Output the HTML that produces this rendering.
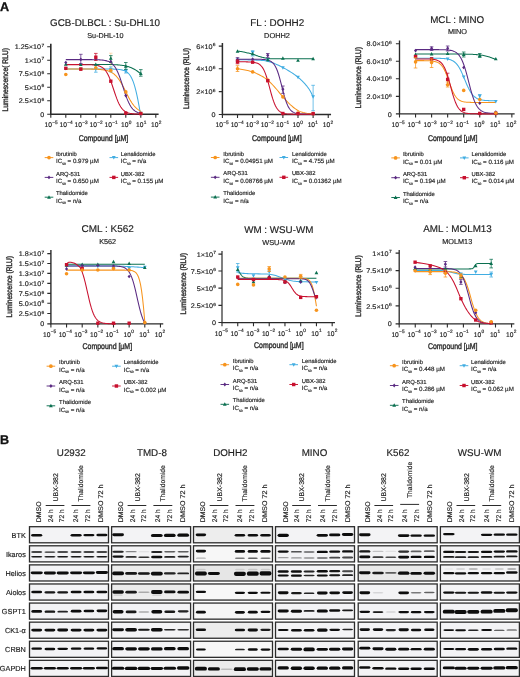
<!DOCTYPE html>
<html><head><meta charset="utf-8"><title>Figure</title>
<style>html,body{margin:0;padding:0;background:#fff;}svg{display:block;opacity:0.999;}text{font-family:"Liberation Sans",sans-serif;text-rendering:geometricPrecision;stroke:#222;stroke-width:0.16px;}</style>
</head><body>
<svg width="520" height="677" viewBox="0 0 520 677">
<defs><filter id="b1" x="-20%" y="-80%" width="140%" height="260%"><feGaussianBlur stdDeviation="0.55"/></filter>
<filter id="b2" x="-20%" y="-80%" width="140%" height="260%"><feGaussianBlur stdDeviation="0.9"/></filter></defs>
<rect width="520" height="677" fill="#fff"/>
<text x="-0.1" y="11.2" font-size="12.6" text-anchor="start" font-weight="bold" fill="#111" style="stroke:#111;stroke-width:0.3px">A</text>
<text x="0" y="443.6" font-size="12.6" text-anchor="start" font-weight="bold" fill="#111" style="stroke:#111;stroke-width:0.3px">B</text>
<g>
<text x="105.1" y="26" font-size="9.8" text-anchor="middle" font-weight="normal" fill="#222222" textLength="110" lengthAdjust="spacingAndGlyphs">GCB-DLBCL : Su-DHL10</text>
<text x="105.4" y="38.2" font-size="7.2" text-anchor="middle" font-weight="normal" fill="#222222" textLength="36.2" lengthAdjust="spacingAndGlyphs">Su-DHL-10</text>
<text transform="translate(8 79.7) rotate(-90)" font-size="8.1" text-anchor="middle" fill="#333" style="stroke:#333;stroke-width:0.42px" textLength="63.4" lengthAdjust="spacingAndGlyphs">Luminescence( RLU)</text>
<path d="M50.8 43.8 V114.2 H158.6" fill="none" stroke="#2b2b2b" stroke-width="1.6"/>
<path d="M47.2 46.8 H50.8 M47.2 60.2 H50.8 M47.2 73.7 H50.8 M47.2 87.2 H50.8 M47.2 100.7 H50.8 M47.2 114.2 H50.8 M50.8 114.2 V117.8 M65.8 114.2 V117.8 M80.8 114.2 V117.8 M95.8 114.2 V117.8 M110.8 114.2 V117.8 M125.8 114.2 V117.8 M140.8 114.2 V117.8 M155.8 114.2 V117.8 " stroke="#2b2b2b" stroke-width="1.1" fill="none"/>
<path d="M65.8 69 L66.8 69 L67.8 69 L68.8 69 L69.8 69 L70.8 69 L71.8 69 L72.8 69 L73.8 69 L74.8 69 L75.8 69 L76.8 69 L77.8 69 L78.8 69 L79.8 69 L80.8 69 L81.8 69 L82.8 69 L83.8 69 L84.8 69 L85.8 69 L86.8 69 L87.8 69 L88.8 69 L89.8 69 L90.8 69 L91.8 69 L92.8 69 L93.8 69 L94.8 69 L95.8 69 L96.8 69 L97.8 69 L98.8 69 L99.8 69 L100.8 69.01 L101.8 69.01 L102.8 69.01 L103.8 69.01 L104.8 69.01 L105.8 69.02 L106.8 69.02 L107.8 69.03 L108.8 69.04 L109.8 69.05 L110.8 69.06 L111.8 69.08 L112.8 69.1 L113.8 69.13 L114.8 69.16 L115.8 69.21 L116.8 69.26 L117.8 69.34 L118.8 69.43 L119.8 69.55 L120.8 69.7 L121.8 69.89 L122.8 70.13 L123.8 70.45 L124.8 70.84 L125.8 71.34 L126.8 71.97 L127.8 72.76 L128.8 73.75 L129.8 74.99 L130.8 76.52 L131.8 78.4 L132.8 80.68 L133.8 83.41 L134.8 86.65 L135.8 90.41 L136.8 94.69 L137.8 99.44 L138.8 104.6 L139.8 110.04 L140.8 115.62" fill="none" stroke="#41ade2" stroke-width="1.05" stroke-linejoin="round"/>
<path d="M65.8 64.4 L66.8 64.4 L67.8 64.4 L68.8 64.4 L69.8 64.4 L70.8 64.4 L71.8 64.4 L72.8 64.4 L73.8 64.4 L74.8 64.4 L75.8 64.4 L76.8 64.4 L77.8 64.4 L78.8 64.4 L79.8 64.4 L80.8 64.4 L81.8 64.4 L82.8 64.4 L83.8 64.4 L84.8 64.4 L85.8 64.4 L86.8 64.4 L87.8 64.41 L88.8 64.41 L89.8 64.41 L90.8 64.41 L91.8 64.41 L92.8 64.41 L93.8 64.41 L94.8 64.41 L95.8 64.42 L96.8 64.42 L97.8 64.42 L98.8 64.43 L99.8 64.43 L100.8 64.44 L101.8 64.44 L102.8 64.45 L103.8 64.46 L104.8 64.47 L105.8 64.48 L106.8 64.49 L107.8 64.51 L108.8 64.53 L109.8 64.55 L110.8 64.57 L111.8 64.6 L112.8 64.63 L113.8 64.67 L114.8 64.71 L115.8 64.76 L116.8 64.82 L117.8 64.89 L118.8 64.97 L119.8 65.06 L120.8 65.17 L121.8 65.29 L122.8 65.43 L123.8 65.59 L124.8 65.77 L125.8 65.98 L126.8 66.22 L127.8 66.49 L128.8 66.8 L129.8 67.14 L130.8 67.53 L131.8 67.96 L132.8 68.44 L133.8 68.96 L134.8 69.52 L135.8 70.14 L136.8 70.79 L137.8 71.49 L138.8 72.22 L139.8 72.98 L140.8 73.75" fill="none" stroke="#0b7050" stroke-width="1.05" stroke-linejoin="round"/>
<path d="M65.8 69 L66.8 69 L67.8 69 L68.8 69 L69.8 69 L70.8 69 L71.8 69 L72.8 69 L73.8 69 L74.8 69.01 L75.8 69.01 L76.8 69.01 L77.8 69.01 L78.8 69.01 L79.8 69.01 L80.8 69.02 L81.8 69.02 L82.8 69.02 L83.8 69.03 L84.8 69.03 L85.8 69.04 L86.8 69.05 L87.8 69.06 L88.8 69.07 L89.8 69.08 L90.8 69.1 L91.8 69.11 L92.8 69.14 L93.8 69.16 L94.8 69.19 L95.8 69.23 L96.8 69.27 L97.8 69.33 L98.8 69.39 L99.8 69.46 L100.8 69.55 L101.8 69.66 L102.8 69.78 L103.8 69.93 L104.8 70.1 L105.8 70.31 L106.8 70.55 L107.8 70.84 L108.8 71.18 L109.8 71.57 L110.8 72.04 L111.8 72.58 L112.8 73.2 L113.8 73.93 L114.8 74.76 L115.8 75.71 L116.8 76.78 L117.8 77.98 L118.8 79.32 L119.8 80.79 L120.8 82.39 L121.8 84.11 L122.8 85.94 L123.8 87.85 L124.8 89.81 L125.8 91.8 L126.8 93.79 L127.8 95.74 L128.8 97.63 L129.8 99.44 L130.8 101.14 L131.8 102.71 L132.8 104.16 L133.8 105.47 L134.8 106.65 L135.8 107.69 L136.8 108.62 L137.8 109.42 L138.8 110.13 L139.8 110.74 L140.8 111.26" fill="none" stroke="#f7941d" stroke-width="1.05" stroke-linejoin="round"/>
<path d="M65.8 59.6 L66.8 59.6 L67.8 59.6 L68.8 59.6 L69.8 59.6 L70.8 59.6 L71.8 59.6 L72.8 59.6 L73.8 59.6 L74.8 59.6 L75.8 59.6 L76.8 59.6 L77.8 59.6 L78.8 59.6 L79.8 59.6 L80.8 59.6 L81.8 59.6 L82.8 59.61 L83.8 59.61 L84.8 59.61 L85.8 59.61 L86.8 59.61 L87.8 59.62 L88.8 59.62 L89.8 59.63 L90.8 59.63 L91.8 59.64 L92.8 59.65 L93.8 59.67 L94.8 59.68 L95.8 59.7 L96.8 59.73 L97.8 59.76 L98.8 59.81 L99.8 59.86 L100.8 59.93 L101.8 60.01 L102.8 60.12 L103.8 60.25 L104.8 60.41 L105.8 60.62 L106.8 60.88 L107.8 61.2 L108.8 61.6 L109.8 62.09 L110.8 62.7 L111.8 63.45 L112.8 64.36 L113.8 65.46 L114.8 66.78 L115.8 68.34 L116.8 70.16 L117.8 72.26 L118.8 74.64 L119.8 77.27 L120.8 80.13 L121.8 83.15 L122.8 86.27 L123.8 89.41 L124.8 92.48 L125.8 95.41 L126.8 98.14 L127.8 100.62 L128.8 102.83 L129.8 104.76 L130.8 106.43 L131.8 107.84 L132.8 109.02 L133.8 110.01 L134.8 110.82 L135.8 111.48 L136.8 112.01 L137.8 112.45 L138.8 112.8 L139.8 113.08 L140.8 113.31" fill="none" stroke="#5a2a82" stroke-width="1.05" stroke-linejoin="round"/>
<path d="M65.8 64.6 L66.8 64.6 L67.8 64.6 L68.8 64.6 L69.8 64.6 L70.8 64.6 L71.8 64.6 L72.8 64.6 L73.8 64.6 L74.8 64.6 L75.8 64.6 L76.8 64.61 L77.8 64.61 L78.8 64.61 L79.8 64.61 L80.8 64.62 L81.8 64.62 L82.8 64.63 L83.8 64.63 L84.8 64.64 L85.8 64.65 L86.8 64.67 L87.8 64.69 L88.8 64.71 L89.8 64.74 L90.8 64.78 L91.8 64.83 L92.8 64.9 L93.8 64.98 L94.8 65.09 L95.8 65.22 L96.8 65.39 L97.8 65.6 L98.8 65.87 L99.8 66.22 L100.8 66.65 L101.8 67.19 L102.8 67.87 L103.8 68.7 L104.8 69.72 L105.8 70.97 L106.8 72.46 L107.8 74.22 L108.8 76.27 L109.8 78.6 L110.8 81.19 L111.8 84.01 L112.8 86.97 L113.8 90.01 L114.8 93.03 L115.8 95.94 L116.8 98.67 L117.8 101.17 L118.8 103.39 L119.8 105.32 L120.8 106.97 L121.8 108.36 L122.8 109.51 L123.8 110.46 L124.8 111.22 L125.8 111.84 L126.8 112.33 L127.8 112.73 L128.8 113.04 L129.8 113.29 L130.8 113.48 L131.8 113.64 L132.8 113.76 L133.8 113.86 L134.8 113.93 L135.8 113.99 L136.8 114.03 L137.8 114.07 L138.8 114.1 L139.8 114.12 L140.8 114.14" fill="none" stroke="#c8102e" stroke-width="1.05" stroke-linejoin="round"/>
<path d="M110.8 53.2 V69 M109 53.2 H112.6" stroke="#f7941d" stroke-opacity="0.4" stroke-width="0.75" fill="none"/>
<path d="M65.8 70.45 L67.65 67.04 L63.95 67.04Z" fill="#41ade2"/>
<path d="M80.8 70.75 L82.65 67.34 L78.95 67.34Z" fill="#41ade2"/>
<path d="M95.8 65.5 V72.2 M94 65.5 H97.6 M94 72.2 H97.6" stroke="#41ade2" stroke-width="0.75" fill="none"/>
<path d="M95.8 70.95 L97.65 67.54 L93.95 67.54Z" fill="#41ade2"/>
<path d="M110.8 66.9 V71.9 M109 66.9 H112.6 M109 71.9 H112.6" stroke="#41ade2" stroke-width="0.75" fill="none"/>
<path d="M110.8 71.35 L112.65 67.94 L108.95 67.94Z" fill="#41ade2"/>
<path d="M125.8 69.4 V73 M124 69.4 H127.6 M124 73 H127.6" stroke="#41ade2" stroke-width="0.75" fill="none"/>
<path d="M125.8 73.15 L127.65 69.74 L123.95 69.74Z" fill="#41ade2"/>
<path d="M140.8 115.25 L142.65 111.84 L138.95 111.84Z" fill="#41ade2"/>
<circle cx="65.8" cy="74.5" r="1.8" fill="#f7941d"/>
<circle cx="80.8" cy="69" r="1.8" fill="#f7941d"/>
<circle cx="95.8" cy="67.8" r="1.8" fill="#f7941d"/>
<circle cx="110.8" cy="70.4" r="1.8" fill="#f7941d"/>
<circle cx="125.8" cy="91.9" r="1.8" fill="#f7941d"/>
<circle cx="140.8" cy="113.2" r="1.8" fill="#f7941d"/>
<path d="M65.8 62.25 L67.65 65.66 L63.95 65.66Z" fill="#0b7050"/>
<path d="M80.8 62.65 L82.65 66.06 L78.95 66.06Z" fill="#0b7050"/>
<path d="M95.8 62.45 L97.65 65.86 L93.95 65.86Z" fill="#0b7050"/>
<path d="M110.8 55.6 V62.5 M109 55.6 H112.6 M109 62.5 H112.6" stroke="#0b7050" stroke-width="0.75" fill="none"/>
<path d="M110.8 56.25 L112.65 59.66 L108.95 59.66Z" fill="#0b7050"/>
<path d="M125.8 62.5 V69.4 M124 62.5 H127.6 M124 69.4 H127.6" stroke="#0b7050" stroke-width="0.75" fill="none"/>
<path d="M125.8 64.25 L127.65 67.66 L123.95 67.66Z" fill="#0b7050"/>
<path d="M140.8 69.6 V76.2 M139 69.6 H142.6 M139 76.2 H142.6" stroke="#0b7050" stroke-width="0.75" fill="none"/>
<path d="M140.8 71.55 L142.65 74.96 L138.95 74.96Z" fill="#0b7050"/>
<path d="M65.8 60.65 L67.37 62.5 L65.8 64.35 L64.23 62.5Z" fill="#5a2a82"/>
<path d="M80.8 54.3 V63.5 M79 54.3 H82.6 M79 63.5 H82.6" stroke="#5a2a82" stroke-width="0.75" fill="none"/>
<path d="M80.8 57.55 L82.37 59.4 L80.8 61.25 L79.23 59.4Z" fill="#5a2a82"/>
<path d="M95.8 57.15 L97.37 59 L95.8 60.85 L94.23 59Z" fill="#5a2a82"/>
<path d="M110.8 59.65 L112.37 61.5 L110.8 63.35 L109.23 61.5Z" fill="#5a2a82"/>
<path d="M125.8 93.75 L127.37 95.6 L125.8 97.45 L124.23 95.6Z" fill="#5a2a82"/>
<path d="M140.8 111.55 L142.37 113.4 L140.8 115.25 L139.23 113.4Z" fill="#5a2a82"/>
<rect x="64.12" y="66.62" width="3.36" height="3.36" fill="#c8102e"/>
<rect x="79.12" y="67.52" width="3.36" height="3.36" fill="#c8102e"/>
<path d="M95.8 53.4 V60.5 M94 53.4 H97.6 M94 60.5 H97.6" stroke="#c8102e" stroke-width="0.75" fill="none"/>
<rect x="94.12" y="55.52" width="3.36" height="3.36" fill="#c8102e"/>
<rect x="109.12" y="79.52" width="3.36" height="3.36" fill="#c8102e"/>
<rect x="124.12" y="111.52" width="3.36" height="3.36" fill="#c8102e"/>
<rect x="139.12" y="111.92" width="3.36" height="3.36" fill="#c8102e"/>
<text x="41.16" y="49.4" font-size="6.7" text-anchor="end" fill="#222222" textLength="26.35" lengthAdjust="spacingAndGlyphs">1.25×10</text>
<text x="41.46" y="46.9" font-size="4.7" text-anchor="start" fill="#222222" textLength="2.74" lengthAdjust="spacingAndGlyphs">7</text>
<text x="41.16" y="62.8" font-size="6.7" text-anchor="end" fill="#222222" textLength="16.3" lengthAdjust="spacingAndGlyphs">1×10</text>
<text x="41.46" y="60.3" font-size="4.7" text-anchor="start" fill="#222222" textLength="2.74" lengthAdjust="spacingAndGlyphs">7</text>
<text x="41.16" y="76.3" font-size="6.7" text-anchor="end" fill="#222222" textLength="22.33" lengthAdjust="spacingAndGlyphs">7.5×10</text>
<text x="41.46" y="73.8" font-size="4.7" text-anchor="start" fill="#222222" textLength="2.74" lengthAdjust="spacingAndGlyphs">6</text>
<text x="41.16" y="89.8" font-size="6.7" text-anchor="end" fill="#222222" textLength="16.3" lengthAdjust="spacingAndGlyphs">5×10</text>
<text x="41.46" y="87.3" font-size="4.7" text-anchor="start" fill="#222222" textLength="2.74" lengthAdjust="spacingAndGlyphs">6</text>
<text x="41.16" y="103.3" font-size="6.7" text-anchor="end" fill="#222222" textLength="22.33" lengthAdjust="spacingAndGlyphs">2.5×10</text>
<text x="41.46" y="100.8" font-size="4.7" text-anchor="start" fill="#222222" textLength="2.74" lengthAdjust="spacingAndGlyphs">6</text>
<text x="44.2" y="116.8" font-size="6.7" text-anchor="end" font-weight="normal" fill="#222222" textLength="4.02" lengthAdjust="spacingAndGlyphs">0</text>
<text x="44.61" y="127.4" font-size="6.9" fill="#222222" textLength="7.4" lengthAdjust="spacingAndGlyphs">10</text>
<text x="52.31" y="124.3" font-size="4.8" fill="#222222" textLength="5.47" lengthAdjust="spacingAndGlyphs">−5</text>
<text x="59.61" y="127.4" font-size="6.9" fill="#222222" textLength="7.4" lengthAdjust="spacingAndGlyphs">10</text>
<text x="67.31" y="124.3" font-size="4.8" fill="#222222" textLength="5.47" lengthAdjust="spacingAndGlyphs">−4</text>
<text x="74.61" y="127.4" font-size="6.9" fill="#222222" textLength="7.4" lengthAdjust="spacingAndGlyphs">10</text>
<text x="82.31" y="124.3" font-size="4.8" fill="#222222" textLength="5.47" lengthAdjust="spacingAndGlyphs">−3</text>
<text x="89.61" y="127.4" font-size="6.9" fill="#222222" textLength="7.4" lengthAdjust="spacingAndGlyphs">10</text>
<text x="97.31" y="124.3" font-size="4.8" fill="#222222" textLength="5.47" lengthAdjust="spacingAndGlyphs">−2</text>
<text x="104.61" y="127.4" font-size="6.9" fill="#222222" textLength="7.4" lengthAdjust="spacingAndGlyphs">10</text>
<text x="112.31" y="124.3" font-size="4.8" fill="#222222" textLength="5.47" lengthAdjust="spacingAndGlyphs">−1</text>
<text x="121.02" y="127.4" font-size="6.9" fill="#222222" textLength="7.4" lengthAdjust="spacingAndGlyphs">10</text>
<text x="128.72" y="124.3" font-size="4.8" fill="#222222" textLength="2.67" lengthAdjust="spacingAndGlyphs">0</text>
<text x="136.02" y="127.4" font-size="6.9" fill="#222222" textLength="7.4" lengthAdjust="spacingAndGlyphs">10</text>
<text x="143.72" y="124.3" font-size="4.8" fill="#222222" textLength="2.67" lengthAdjust="spacingAndGlyphs">1</text>
<text x="151.02" y="127.4" font-size="6.9" fill="#222222" textLength="7.4" lengthAdjust="spacingAndGlyphs">10</text>
<text x="158.72" y="124.3" font-size="4.8" fill="#222222" textLength="2.67" lengthAdjust="spacingAndGlyphs">2</text>
<text x="103.5" y="140.9" font-size="8.3" text-anchor="middle" fill="#333" style="stroke:#333;stroke-width:0.42px" textLength="49.6" lengthAdjust="spacingAndGlyphs">Compound [µM]</text>
<path d="M44.7 157.6 H53.3" stroke="#f7941d" stroke-width="0.95"/>
<circle cx="49" cy="157.6" r="1.84" fill="#f7941d"/>
<text x="56" y="155.7" font-size="5.85" text-anchor="start" font-weight="normal" fill="#222222">Ibrutinib</text>
<text x="56" y="163.3" font-size="6.2" fill="#222222">IC<tspan font-size="3.3" dy="1.5">50</tspan><tspan dy="-1.5"> = 0.979 µM</tspan></text>
<path d="M44.7 177.4 H53.3" stroke="#5a2a82" stroke-width="0.95"/>
<path d="M49 175.51 L50.6 177.4 L49 179.29 L47.4 177.4Z" fill="#5a2a82"/>
<text x="56" y="175.5" font-size="5.85" text-anchor="start" font-weight="normal" fill="#222222">ARQ-531</text>
<text x="56" y="183.1" font-size="6.2" fill="#222222">IC<tspan font-size="3.3" dy="1.5">50</tspan><tspan dy="-1.5"> = 0.650 µM</tspan></text>
<path d="M44.7 197.2 H53.3" stroke="#0b7050" stroke-width="0.95"/>
<path d="M49 195.21 L50.89 198.69 L47.11 198.69Z" fill="#0b7050"/>
<text x="56" y="195.3" font-size="5.85" text-anchor="start" font-weight="normal" fill="#222222">Thalidomide</text>
<text x="56" y="202.9" font-size="6.2" fill="#222222">IC<tspan font-size="3.3" dy="1.5">50</tspan><tspan dy="-1.5"> = n/a</tspan></text>
<path d="M109.5 157.6 H118.1" stroke="#41ade2" stroke-width="0.95"/>
<path d="M113.8 159.59 L115.69 156.11 L111.91 156.11Z" fill="#41ade2"/>
<text x="120.7" y="155.7" font-size="5.85" text-anchor="start" font-weight="normal" fill="#222222">Lenalidomide</text>
<text x="120.7" y="163.3" font-size="6.2" fill="#222222">IC<tspan font-size="3.3" dy="1.5">50</tspan><tspan dy="-1.5"> = n/a</tspan></text>
<path d="M109.5 177.4 H118.1" stroke="#c8102e" stroke-width="0.95"/>
<rect x="112.09" y="175.69" width="3.43" height="3.43" fill="#c8102e"/>
<text x="120.7" y="175.5" font-size="5.85" text-anchor="start" font-weight="normal" fill="#222222">UBX-382</text>
<text x="120.7" y="183.1" font-size="6.2" fill="#222222">IC<tspan font-size="3.3" dy="1.5">50</tspan><tspan dy="-1.5"> = 0.155 µM</tspan></text>
</g>
<g>
<text x="277.2" y="25.6" font-size="9.8" text-anchor="middle" font-weight="normal" fill="#222222" textLength="54" lengthAdjust="spacingAndGlyphs">FL : DOHH2</text>
<text x="277" y="37.6" font-size="7.2" text-anchor="middle" font-weight="normal" fill="#222222" textLength="25.9" lengthAdjust="spacingAndGlyphs">DOHH2</text>
<text transform="translate(189.4 78.5) rotate(-90)" font-size="8.1" text-anchor="middle" fill="#333" style="stroke:#333;stroke-width:0.42px" textLength="61" lengthAdjust="spacingAndGlyphs">Luminescence (RLU)</text>
<path d="M222.4 42.9 V114.45 H331.04" fill="none" stroke="#2b2b2b" stroke-width="1.5"/>
<path d="M218.8 46.1 H222.4 M218.8 68.8 H222.4 M218.8 91.6 H222.4 M218.8 114.45 H222.4 M222.4 114.45 V118.05 M237.52 114.45 V118.05 M252.64 114.45 V118.05 M267.76 114.45 V118.05 M282.88 114.45 V118.05 M298 114.45 V118.05 M313.12 114.45 V118.05 M328.24 114.45 V118.05 " stroke="#2b2b2b" stroke-width="1.1" fill="none"/>
<path d="M237.52 59.8 L238.25 59.81 L239.16 59.81 L240.24 59.81 L241.44 59.81 L242.75 59.81 L244.13 59.82 L245.57 59.83 L247.04 59.84 L248.51 59.87 L249.94 59.9 L251.33 59.94 L252.64 60 L253.9 60.05 L255.16 60.1 L256.42 60.13 L257.68 60.17 L258.94 60.22 L260.2 60.27 L261.46 60.36 L262.72 60.46 L263.98 60.6 L265.24 60.79 L266.5 61.02 L267.76 61.3 L269.02 61.63 L270.28 62.01 L271.54 62.42 L272.8 62.87 L274.06 63.36 L275.32 63.88 L276.58 64.42 L277.84 64.99 L279.1 65.59 L280.36 66.21 L281.62 66.85 L282.88 67.5 L284.16 68.18 L285.46 68.91 L286.78 69.66 L288.11 70.45 L289.44 71.26 L290.76 72.09 L292.06 72.93 L293.34 73.79 L294.58 74.64 L295.78 75.5 L296.92 76.36 L298 77.2 L299.03 78.05 L300.02 78.91 L300.97 79.78 L301.89 80.66 L302.78 81.54 L303.62 82.43 L304.44 83.32 L305.22 84.2 L305.96 85.07 L306.68 85.93 L307.35 86.77 L308 87.6 L308.61 88.44 L309.19 89.31 L309.74 90.2 L310.26 91.1 L310.74 91.98 L311.19 92.85 L311.6 93.68 L311.97 94.46 L312.31 95.17 L312.62 95.81 L312.89 96.36 L313.12 96.8" fill="none" stroke="#41ade2" stroke-width="1.05" stroke-linejoin="round"/>
<path d="M237.52 51.2 L237.75 51.22 L238 51.24 L238.3 51.27 L238.63 51.29 L238.99 51.32 L239.39 51.35 L239.82 51.39 L240.29 51.44 L240.79 51.51 L241.33 51.59 L241.91 51.69 L242.52 51.8 L243.19 51.94 L243.95 52.1 L244.76 52.27 L245.63 52.47 L246.53 52.67 L247.45 52.89 L248.39 53.11 L249.31 53.33 L250.21 53.56 L251.07 53.78 L251.89 53.99 L252.64 54.2 L253.33 54.4 L253.97 54.61 L254.58 54.81 L255.16 55.02 L255.72 55.23 L256.26 55.44 L256.8 55.64 L257.34 55.84 L257.88 56.04 L258.44 56.23 L259.03 56.42 L259.64 56.6 L260.28 56.78 L260.93 56.95 L261.59 57.12 L262.27 57.3 L262.95 57.46 L263.64 57.62 L264.33 57.78 L265.02 57.93 L265.71 58.06 L266.4 58.19 L267.08 58.3 L267.76 58.4 L268.43 58.48 L269.11 58.55 L269.79 58.61 L270.47 58.65 L271.15 58.69 L271.82 58.71 L272.5 58.73 L273.16 58.75 L273.82 58.76 L274.48 58.77 L275.12 58.79 L275.76 58.8 L276.36 58.81 L276.9 58.82 L277.41 58.83 L277.9 58.83 L278.38 58.83 L278.87 58.82 L279.39 58.82 L279.95 58.81 L280.56 58.81 L281.24 58.8 L282.01 58.8 L282.88 58.8 L283.86 58.8 L284.94 58.8 L286.1 58.8 L287.33 58.8 L288.61 58.8 L289.94 58.8 L291.29 58.8 L292.66 58.8 L294.03 58.8 L295.39 58.8 L296.71 58.8 L298 58.8 L299.31 58.8 L300.69 58.8 L302.13 58.8 L303.6 58.8 L305.07 58.8 L306.5 58.8 L307.89 58.8 L309.2 58.8 L310.4 58.8 L311.48 58.8 L312.39 58.8 L313.12 58.8" fill="none" stroke="#0b7050" stroke-width="1.05" stroke-linejoin="round"/>
<path d="M237.4 68.7 L238.23 68.83 L239.37 69.01 L240.73 69.23 L242.19 69.47 L243.65 69.73 L245 70 L246.27 70.27 L247.54 70.54 L248.81 70.83 L250.08 71.14 L251.34 71.5 L252.6 71.9 L253.84 72.35 L255.07 72.84 L256.3 73.37 L257.53 73.94 L258.76 74.55 L260 75.2 L261.25 75.88 L262.51 76.58 L263.78 77.32 L265.05 78.12 L266.33 79.01 L267.6 80 L268.88 81.11 L270.16 82.33 L271.45 83.63 L272.74 84.99 L274.02 86.39 L275.3 87.8 L276.57 89.26 L277.84 90.78 L279.11 92.34 L280.37 93.91 L281.63 95.44 L282.9 96.9 L284.17 98.31 L285.44 99.7 L286.71 101.06 L287.97 102.37 L289.24 103.62 L290.5 104.8 L291.76 105.91 L293.01 106.98 L294.26 107.99 L295.5 108.92 L296.75 109.76 L298 110.5 L299.25 111.12 L300.5 111.63 L301.74 112.05 L302.99 112.4 L304.24 112.71 L305.5 113 L306.85 113.25 L308.31 113.45 L309.77 113.61 L311.13 113.73 L312.27 113.82 L313.1 113.9" fill="none" stroke="#f7941d" stroke-width="1.05" stroke-linejoin="round"/>
<path d="M237.52 59.2 L238.52 59.2 L239.52 59.2 L240.52 59.2 L241.52 59.2 L242.52 59.2 L243.52 59.2 L244.52 59.2 L245.52 59.2 L246.52 59.2 L247.52 59.2 L248.52 59.2 L249.52 59.2 L250.52 59.21 L251.52 59.21 L252.52 59.21 L253.52 59.21 L254.52 59.22 L255.52 59.23 L256.52 59.24 L257.52 59.25 L258.52 59.26 L259.52 59.28 L260.52 59.31 L261.52 59.35 L262.52 59.4 L263.52 59.47 L264.52 59.56 L265.52 59.68 L266.52 59.83 L267.52 60.04 L268.52 60.32 L269.52 60.69 L270.52 61.17 L271.52 61.8 L272.52 62.62 L273.52 63.67 L274.52 65.01 L275.52 66.7 L276.52 68.78 L277.52 71.28 L278.52 74.23 L279.52 77.59 L280.52 81.28 L281.52 85.19 L282.52 89.16 L283.52 93.03 L284.52 96.65 L285.52 99.92 L286.52 102.76 L287.52 105.16 L288.52 107.14 L289.52 108.74 L290.52 110.01 L291.52 111 L292.52 111.77 L293.52 112.36 L294.52 112.81 L295.52 113.15 L296.52 113.41 L297.52 113.61 L298.52 113.76 L299.52 113.87 L300.52 113.95 L301.52 114.01 L302.52 114.06 L303.52 114.09 L304.52 114.12 L305.52 114.14 L306.52 114.16 L307.52 114.17 L308.52 114.18 L309.52 114.18 L310.52 114.19 L311.52 114.19 L312.52 114.19 L313.12 114.19" fill="none" stroke="#5a2a82" stroke-width="1.05" stroke-linejoin="round"/>
<path d="M237.52 61.8 L238.52 61.81 L239.52 61.81 L240.52 61.81 L241.52 61.82 L242.52 61.82 L243.52 61.83 L244.52 61.84 L245.52 61.85 L246.52 61.86 L247.52 61.89 L248.52 61.91 L249.52 61.95 L250.52 62 L251.52 62.07 L252.52 62.16 L253.52 62.28 L254.52 62.44 L255.52 62.65 L256.52 62.93 L257.52 63.3 L258.52 63.78 L259.52 64.42 L260.52 65.24 L261.52 66.29 L262.52 67.63 L263.52 69.31 L264.52 71.37 L265.52 73.84 L266.52 76.73 L267.52 80 L268.52 83.57 L269.52 87.32 L270.52 91.09 L271.52 94.74 L272.52 98.13 L273.52 101.17 L274.52 103.79 L275.52 106 L276.52 107.81 L277.52 109.26 L278.52 110.41 L279.52 111.31 L280.52 112.01 L281.52 112.54 L282.52 112.95 L283.52 113.26 L284.52 113.49 L285.52 113.67 L286.52 113.8 L287.52 113.9 L288.52 113.97 L289.52 114.03 L290.52 114.07 L291.52 114.11 L292.52 114.13 L293.52 114.15 L294.52 114.16 L295.52 114.17 L296.52 114.18 L297.52 114.18 L298.52 114.19 L299.52 114.19 L300.52 114.19 L301.52 114.19 L302.52 114.2 L303.52 114.2 L304.52 114.2 L305.52 114.2 L306.52 114.2 L307.52 114.2 L308.52 114.2 L309.52 114.2 L310.52 114.2 L311.52 114.2 L312.52 114.2 L313.12 114.2" fill="none" stroke="#c8102e" stroke-width="1.05" stroke-linejoin="round"/>
<path d="M237.52 61.85 L239.37 58.44 L235.67 58.44Z" fill="#41ade2"/>
<path d="M252.64 50.7 V56 M250.84 50.7 H254.44 M250.84 56 H254.44" stroke="#41ade2" stroke-width="0.75" fill="none"/>
<path d="M252.64 54.45 L254.49 51.04 L250.79 51.04Z" fill="#41ade2"/>
<path d="M267.76 62.15 L269.61 58.74 L265.91 58.74Z" fill="#41ade2"/>
<path d="M282.88 69.75 L284.73 66.34 L281.03 66.34Z" fill="#41ade2"/>
<path d="M298 79.15 L299.85 75.74 L296.15 75.74Z" fill="#41ade2"/>
<path d="M313.12 85.3 V110.7 M311.32 85.3 H314.92 M311.32 110.7 H314.92" stroke="#41ade2" stroke-width="0.75" fill="none"/>
<path d="M313.12 98.75 L314.97 95.34 L311.27 95.34Z" fill="#41ade2"/>
<path d="M237.52 65.7 V71.5 M235.72 65.7 H239.32 M235.72 71.5 H239.32" stroke="#f7941d" stroke-width="0.75" fill="none"/>
<circle cx="237.52" cy="68.7" r="1.8" fill="#f7941d"/>
<circle cx="252.64" cy="71.9" r="1.8" fill="#f7941d"/>
<circle cx="267.76" cy="80" r="1.8" fill="#f7941d"/>
<circle cx="282.88" cy="96.9" r="1.8" fill="#f7941d"/>
<circle cx="298" cy="113" r="1.8" fill="#f7941d"/>
<circle cx="313.12" cy="113.6" r="1.8" fill="#f7941d"/>
<path d="M237.52 49.25 L239.37 52.66 L235.67 52.66Z" fill="#0b7050"/>
<path d="M252.64 51.75 L254.49 55.16 L250.79 55.16Z" fill="#0b7050"/>
<path d="M267.76 57.95 L269.61 61.36 L265.91 61.36Z" fill="#0b7050"/>
<path d="M282.88 56.35 L284.73 59.76 L281.03 59.76Z" fill="#0b7050"/>
<path d="M298 58.45 L299.85 61.86 L296.15 61.86Z" fill="#0b7050"/>
<path d="M313.12 56.85 L314.97 60.26 L311.27 60.26Z" fill="#0b7050"/>
<path d="M237.52 57.6 V61 M235.72 57.6 H239.32 M235.72 61 H239.32" stroke="#5a2a82" stroke-width="0.75" fill="none"/>
<path d="M237.52 57.55 L239.09 59.4 L237.52 61.25 L235.95 59.4Z" fill="#5a2a82"/>
<path d="M252.64 57.35 L254.21 59.2 L252.64 61.05 L251.07 59.2Z" fill="#5a2a82"/>
<path d="M267.76 53.5 V57.6 M265.96 53.5 H269.56 M265.96 57.6 H269.56" stroke="#5a2a82" stroke-width="0.75" fill="none"/>
<path d="M267.76 53.45 L269.33 55.3 L267.76 57.15 L266.19 55.3Z" fill="#5a2a82"/>
<path d="M282.88 86 V93.4 M281.08 86 H284.68 M281.08 93.4 H284.68" stroke="#5a2a82" stroke-width="0.75" fill="none"/>
<path d="M282.88 87.35 L284.45 89.2 L282.88 91.05 L281.31 89.2Z" fill="#5a2a82"/>
<path d="M298 111.75 L299.57 113.6 L298 115.45 L296.43 113.6Z" fill="#5a2a82"/>
<path d="M313.12 111.75 L314.69 113.6 L313.12 115.45 L311.55 113.6Z" fill="#5a2a82"/>
<path d="M237.52 59.8 V63.8 M235.72 59.8 H239.32 M235.72 63.8 H239.32" stroke="#c8102e" stroke-width="0.75" fill="none"/>
<rect x="235.84" y="60.12" width="3.36" height="3.36" fill="#c8102e"/>
<rect x="250.96" y="60.52" width="3.36" height="3.36" fill="#c8102e"/>
<rect x="266.08" y="79.02" width="3.36" height="3.36" fill="#c8102e"/>
<rect x="281.2" y="111.82" width="3.36" height="3.36" fill="#c8102e"/>
<rect x="296.32" y="111.92" width="3.36" height="3.36" fill="#c8102e"/>
<rect x="311.44" y="111.92" width="3.36" height="3.36" fill="#c8102e"/>
<text x="212.46" y="48.7" font-size="6.7" text-anchor="end" fill="#222222" textLength="16.3" lengthAdjust="spacingAndGlyphs">6×10</text>
<text x="212.76" y="46.2" font-size="4.7" text-anchor="start" fill="#222222" textLength="2.74" lengthAdjust="spacingAndGlyphs">6</text>
<text x="212.46" y="71.4" font-size="6.7" text-anchor="end" fill="#222222" textLength="16.3" lengthAdjust="spacingAndGlyphs">4×10</text>
<text x="212.76" y="68.9" font-size="4.7" text-anchor="start" fill="#222222" textLength="2.74" lengthAdjust="spacingAndGlyphs">6</text>
<text x="212.46" y="94.2" font-size="6.7" text-anchor="end" fill="#222222" textLength="16.3" lengthAdjust="spacingAndGlyphs">2×10</text>
<text x="212.76" y="91.7" font-size="4.7" text-anchor="start" fill="#222222" textLength="2.74" lengthAdjust="spacingAndGlyphs">6</text>
<text x="215.5" y="117.05" font-size="6.7" text-anchor="end" font-weight="normal" fill="#222222" textLength="4.02" lengthAdjust="spacingAndGlyphs">0</text>
<text x="215.51" y="127.3" font-size="6.9" fill="#222222" textLength="7.4" lengthAdjust="spacingAndGlyphs">10</text>
<text x="223.21" y="124.2" font-size="4.8" fill="#222222" textLength="5.47" lengthAdjust="spacingAndGlyphs">−5</text>
<text x="230.63" y="127.3" font-size="6.9" fill="#222222" textLength="7.4" lengthAdjust="spacingAndGlyphs">10</text>
<text x="238.33" y="124.2" font-size="4.8" fill="#222222" textLength="5.47" lengthAdjust="spacingAndGlyphs">−4</text>
<text x="245.75" y="127.3" font-size="6.9" fill="#222222" textLength="7.4" lengthAdjust="spacingAndGlyphs">10</text>
<text x="253.45" y="124.2" font-size="4.8" fill="#222222" textLength="5.47" lengthAdjust="spacingAndGlyphs">−3</text>
<text x="260.87" y="127.3" font-size="6.9" fill="#222222" textLength="7.4" lengthAdjust="spacingAndGlyphs">10</text>
<text x="268.57" y="124.2" font-size="4.8" fill="#222222" textLength="5.47" lengthAdjust="spacingAndGlyphs">−2</text>
<text x="275.99" y="127.3" font-size="6.9" fill="#222222" textLength="7.4" lengthAdjust="spacingAndGlyphs">10</text>
<text x="283.69" y="124.2" font-size="4.8" fill="#222222" textLength="5.47" lengthAdjust="spacingAndGlyphs">−1</text>
<text x="292.52" y="127.3" font-size="6.9" fill="#222222" textLength="7.4" lengthAdjust="spacingAndGlyphs">10</text>
<text x="300.22" y="124.2" font-size="4.8" fill="#222222" textLength="2.67" lengthAdjust="spacingAndGlyphs">0</text>
<text x="307.64" y="127.3" font-size="6.9" fill="#222222" textLength="7.4" lengthAdjust="spacingAndGlyphs">10</text>
<text x="315.34" y="124.2" font-size="4.8" fill="#222222" textLength="2.67" lengthAdjust="spacingAndGlyphs">1</text>
<text x="322.76" y="127.3" font-size="6.9" fill="#222222" textLength="7.4" lengthAdjust="spacingAndGlyphs">10</text>
<text x="330.46" y="124.2" font-size="4.8" fill="#222222" textLength="2.67" lengthAdjust="spacingAndGlyphs">2</text>
<text x="276.8" y="140.8" font-size="8.3" text-anchor="middle" fill="#333" style="stroke:#333;stroke-width:0.42px" textLength="49.6" lengthAdjust="spacingAndGlyphs">Compound [µM]</text>
<path d="M210.9 157.5 H219.5" stroke="#f7941d" stroke-width="0.95"/>
<circle cx="215.2" cy="157.5" r="1.84" fill="#f7941d"/>
<text x="223.3" y="155.6" font-size="5.85" text-anchor="start" font-weight="normal" fill="#222222">Ibrutinib</text>
<text x="223.3" y="163.2" font-size="6.2" fill="#222222">IC<tspan font-size="3.3" dy="1.5">50</tspan><tspan dy="-1.5"> = 0.04951 µM</tspan></text>
<path d="M210.9 177.3 H219.5" stroke="#5a2a82" stroke-width="0.95"/>
<path d="M215.2 175.41 L216.8 177.3 L215.2 179.19 L213.6 177.3Z" fill="#5a2a82"/>
<text x="223.3" y="175.4" font-size="5.85" text-anchor="start" font-weight="normal" fill="#222222">ARQ-531</text>
<text x="223.3" y="183" font-size="6.2" fill="#222222">IC<tspan font-size="3.3" dy="1.5">50</tspan><tspan dy="-1.5"> = 0.08766 µM</tspan></text>
<path d="M210.9 197.1 H219.5" stroke="#0b7050" stroke-width="0.95"/>
<path d="M215.2 195.11 L217.09 198.59 L213.31 198.59Z" fill="#0b7050"/>
<text x="223.3" y="195.2" font-size="5.85" text-anchor="start" font-weight="normal" fill="#222222">Thalidomide</text>
<text x="223.3" y="202.8" font-size="6.2" fill="#222222">IC<tspan font-size="3.3" dy="1.5">50</tspan><tspan dy="-1.5"> = n/a</tspan></text>
<path d="M279.5 157.5 H288.1" stroke="#41ade2" stroke-width="0.95"/>
<path d="M283.8 159.49 L285.69 156.01 L281.91 156.01Z" fill="#41ade2"/>
<text x="291.9" y="155.6" font-size="5.85" text-anchor="start" font-weight="normal" fill="#222222">Lenalidomide</text>
<text x="291.9" y="163.2" font-size="6.2" fill="#222222">IC<tspan font-size="3.3" dy="1.5">50</tspan><tspan dy="-1.5"> = 4.755 µM</tspan></text>
<path d="M279.5 177.3 H288.1" stroke="#c8102e" stroke-width="0.95"/>
<rect x="282.09" y="175.59" width="3.43" height="3.43" fill="#c8102e"/>
<text x="291.9" y="175.4" font-size="5.85" text-anchor="start" font-weight="normal" fill="#222222">UBX-382</text>
<text x="291.9" y="183" font-size="6.2" fill="#222222">IC<tspan font-size="3.3" dy="1.5">50</tspan><tspan dy="-1.5"> = 0.01362 µM</tspan></text>
</g>
<g>
<text x="457.2" y="22.8" font-size="9.8" text-anchor="middle" font-weight="normal" fill="#222222" textLength="54" lengthAdjust="spacingAndGlyphs">MCL : MINO</text>
<text x="457.5" y="34.4" font-size="7.2" text-anchor="middle" font-weight="normal" fill="#222222" textLength="19.1" lengthAdjust="spacingAndGlyphs">MINO</text>
<text transform="translate(360.6 77.6) rotate(-90)" font-size="8.1" text-anchor="middle" fill="#333" style="stroke:#333;stroke-width:0.42px" textLength="61.2" lengthAdjust="spacingAndGlyphs">Luminescence (RLU)</text>
<path d="M399.5 40.4 V113.9 H514.65" fill="none" stroke="#2b2b2b" stroke-width="1.35"/>
<path d="M395.9 43.8 H399.5 M395.9 61.2 H399.5 M395.9 78.8 H399.5 M395.9 96.4 H399.5 M395.9 113.9 H399.5 M399.5 113.9 V117.5 M415.55 113.9 V117.5 M431.6 113.9 V117.5 M447.65 113.9 V117.5 M463.7 113.9 V117.5 M479.75 113.9 V117.5 M495.8 113.9 V117.5 M511.85 113.9 V117.5 " stroke="#2b2b2b" stroke-width="1.1" fill="none"/>
<path d="M415.55 54 L416.55 54 L417.55 54 L418.55 54 L419.55 54 L420.55 54 L421.55 54 L422.55 54 L423.55 54 L424.55 54 L425.55 54 L426.55 54 L427.55 54 L428.55 54 L429.55 54 L430.55 54 L431.55 54 L432.55 54 L433.55 54 L434.55 54 L435.55 54 L436.55 54 L437.55 54 L438.55 54 L439.55 54 L440.55 54 L441.55 54 L442.55 54 L443.55 54.01 L444.55 54.01 L445.55 54.01 L446.55 54.01 L447.55 54.01 L448.55 54.01 L449.55 54.01 L450.55 54.02 L451.55 54.02 L452.55 54.02 L453.55 54.02 L454.55 54.03 L455.55 54.03 L456.55 54.04 L457.55 54.04 L458.55 54.05 L459.55 54.06 L460.55 54.06 L461.55 54.07 L462.55 54.09 L463.55 54.1 L464.55 54.11 L465.55 54.13 L466.55 54.15 L467.55 54.17 L468.55 54.2 L469.55 54.23 L470.55 54.26 L471.55 54.3 L472.55 54.35 L473.55 54.4 L474.55 54.46 L475.55 54.53 L476.55 54.61 L477.55 54.69 L478.55 54.79 L479.55 54.91 L480.55 55.04 L481.55 55.18 L482.55 55.34 L483.55 55.52 L484.55 55.72 L485.55 55.95 L486.55 56.19 L487.55 56.46 L488.55 56.75 L489.55 57.07 L490.55 57.41 L491.55 57.77 L492.55 58.15 L493.55 58.54 L494.55 58.96 L495.55 59.38 L495.8 59.48" fill="none" stroke="#0b7050" stroke-width="1.05" stroke-linejoin="round"/>
<path d="M415.55 58.2 L416.55 58.2 L417.55 58.2 L418.55 58.2 L419.55 58.2 L420.55 58.2 L421.55 58.2 L422.55 58.2 L423.55 58.2 L424.55 58.2 L425.55 58.21 L426.55 58.21 L427.55 58.21 L428.55 58.21 L429.55 58.21 L430.55 58.22 L431.55 58.22 L432.55 58.23 L433.55 58.23 L434.55 58.24 L435.55 58.25 L436.55 58.27 L437.55 58.28 L438.55 58.31 L439.55 58.33 L440.55 58.37 L441.55 58.41 L442.55 58.46 L443.55 58.53 L444.55 58.61 L445.55 58.72 L446.55 58.85 L447.55 59.02 L448.55 59.22 L449.55 59.48 L450.55 59.79 L451.55 60.19 L452.55 60.67 L453.55 61.26 L454.55 61.98 L455.55 62.85 L456.55 63.89 L457.55 65.11 L458.55 66.55 L459.55 68.2 L460.55 70.06 L461.55 72.12 L462.55 74.35 L463.55 76.7 L464.55 79.13 L465.55 81.57 L466.55 83.96 L467.55 86.23 L468.55 88.34 L469.55 90.27 L470.55 91.98 L471.55 93.48 L472.55 94.77 L473.55 95.86 L474.55 96.78 L475.55 97.54 L476.55 98.17 L477.55 98.68 L478.55 99.1 L479.55 99.44 L480.55 99.71 L481.55 99.93 L482.55 100.1 L483.55 100.24 L484.55 100.36 L485.55 100.45 L486.55 100.52 L487.55 100.58 L488.55 100.62 L489.55 100.66 L490.55 100.69 L491.55 100.71 L492.55 100.73 L493.55 100.74 L494.55 100.75 L495.55 100.76 L495.8 100.77" fill="none" stroke="#41ade2" stroke-width="1.05" stroke-linejoin="round"/>
<path d="M415.55 60.6 L416.55 60.61 L417.55 60.61 L418.55 60.61 L419.55 60.61 L420.55 60.62 L421.55 60.62 L422.55 60.63 L423.55 60.64 L424.55 60.65 L425.55 60.67 L426.55 60.69 L427.55 60.72 L428.55 60.76 L429.55 60.81 L430.55 60.87 L431.55 60.96 L432.55 61.07 L433.55 61.21 L434.55 61.4 L435.55 61.64 L436.55 61.96 L437.55 62.37 L438.55 62.89 L439.55 63.56 L440.55 64.41 L441.55 65.46 L442.55 66.76 L443.55 68.33 L444.55 70.2 L445.55 72.37 L446.55 74.8 L447.55 77.46 L448.55 80.27 L449.55 83.12 L450.55 85.91 L451.55 88.55 L452.55 90.96 L453.55 93.1 L454.55 94.94 L455.55 96.48 L456.55 97.75 L457.55 98.79 L458.55 99.61 L459.55 100.26 L460.55 100.78 L461.55 101.17 L462.55 101.48 L463.55 101.72 L464.55 101.9 L465.55 102.04 L466.55 102.15 L467.55 102.23 L468.55 102.3 L469.55 102.35 L470.55 102.38 L471.55 102.41 L472.55 102.43 L473.55 102.45 L474.55 102.46 L475.55 102.47 L476.55 102.48 L477.55 102.48 L478.55 102.49 L479.55 102.49 L480.55 102.49 L481.55 102.49 L482.55 102.5 L483.55 102.5 L484.55 102.5 L485.55 102.5 L486.55 102.5 L487.55 102.5 L488.55 102.5 L489.55 102.5 L490.55 102.5 L491.55 102.5 L492.55 102.5 L493.55 102.5 L494.55 102.5 L495.55 102.5 L495.8 102.5" fill="none" stroke="#f7941d" stroke-width="1.05" stroke-linejoin="round"/>
<path d="M415.55 49.6 L416.55 49.6 L417.55 49.6 L418.55 49.6 L419.55 49.6 L420.55 49.6 L421.55 49.6 L422.55 49.6 L423.55 49.6 L424.55 49.6 L425.55 49.6 L426.55 49.6 L427.55 49.6 L428.55 49.6 L429.55 49.6 L430.55 49.61 L431.55 49.61 L432.55 49.61 L433.55 49.61 L434.55 49.62 L435.55 49.62 L436.55 49.63 L437.55 49.63 L438.55 49.64 L439.55 49.65 L440.55 49.67 L441.55 49.69 L442.55 49.71 L443.55 49.74 L444.55 49.78 L445.55 49.83 L446.55 49.89 L447.55 49.97 L448.55 50.08 L449.55 50.21 L450.55 50.37 L451.55 50.58 L452.55 50.85 L453.55 51.19 L454.55 51.61 L455.55 52.14 L456.55 52.81 L457.55 53.64 L458.55 54.67 L459.55 55.93 L460.55 57.47 L461.55 59.31 L462.55 61.49 L463.55 64.03 L464.55 66.94 L465.55 70.19 L466.55 73.73 L467.55 77.48 L468.55 81.36 L469.55 85.23 L470.55 89.01 L471.55 92.57 L472.55 95.85 L473.55 98.79 L474.55 101.37 L475.55 103.59 L476.55 105.46 L477.55 107.03 L478.55 108.31 L479.55 109.36 L480.55 110.21 L481.55 110.9 L482.55 111.44 L483.55 111.88 L484.55 112.22 L485.55 112.49 L486.55 112.71 L487.55 112.88 L488.55 113.01 L489.55 113.12 L490.55 113.2 L491.55 113.26 L492.55 113.31 L493.55 113.35 L494.55 113.39 L495.55 113.41 L495.8 113.42" fill="none" stroke="#5a2a82" stroke-width="1.05" stroke-linejoin="round"/>
<path d="M415.55 58.9 L416.55 58.91 L417.55 58.91 L418.55 58.91 L419.55 58.91 L420.55 58.92 L421.55 58.92 L422.55 58.93 L423.55 58.93 L424.55 58.95 L425.55 58.96 L426.55 58.98 L427.55 59 L428.55 59.03 L429.55 59.08 L430.55 59.13 L431.55 59.2 L432.55 59.3 L433.55 59.42 L434.55 59.58 L435.55 59.79 L436.55 60.07 L437.55 60.43 L438.55 60.89 L439.55 61.48 L440.55 62.24 L441.55 63.2 L442.55 64.41 L443.55 65.92 L444.55 67.77 L445.55 69.99 L446.55 72.6 L447.55 75.58 L448.55 78.91 L449.55 82.49 L450.55 86.21 L451.55 89.94 L452.55 93.54 L453.55 96.9 L454.55 99.92 L455.55 102.57 L456.55 104.83 L457.55 106.71 L458.55 108.25 L459.55 109.49 L460.55 110.48 L461.55 111.25 L462.55 111.86 L463.55 112.33 L464.55 112.7 L465.55 112.98 L466.55 113.2 L467.55 113.36 L468.55 113.49 L469.55 113.59 L470.55 113.66 L471.55 113.72 L472.55 113.76 L473.55 113.79 L474.55 113.82 L475.55 113.84 L476.55 113.85 L477.55 113.86 L478.55 113.87 L479.55 113.88 L480.55 113.88 L481.55 113.89 L482.55 113.89 L483.55 113.89 L484.55 113.89 L485.55 113.9 L486.55 113.9 L487.55 113.9 L488.55 113.9 L489.55 113.9 L490.55 113.9 L491.55 113.9 L492.55 113.9 L493.55 113.9 L494.55 113.9 L495.55 113.9 L495.8 113.9" fill="none" stroke="#c8102e" stroke-width="1.05" stroke-linejoin="round"/>
<path d="M415.55 52.55 L417.4 55.96 L413.7 55.96Z" fill="#0b7050"/>
<path d="M431.6 52.05 L433.45 55.46 L429.75 55.46Z" fill="#0b7050"/>
<path d="M447.65 51.55 L449.5 54.96 L445.8 54.96Z" fill="#0b7050"/>
<path d="M463.7 52 V57 M461.9 52 H465.5 M461.9 57 H465.5" stroke="#0b7050" stroke-width="0.75" fill="none"/>
<path d="M463.7 52.55 L465.55 55.96 L461.85 55.96Z" fill="#0b7050"/>
<path d="M479.75 53.5 V57.5 M477.95 53.5 H481.55 M477.95 57.5 H481.55" stroke="#0b7050" stroke-width="0.75" fill="none"/>
<path d="M479.75 53.55 L481.6 56.96 L477.9 56.96Z" fill="#0b7050"/>
<path d="M495.8 56.95 L497.65 60.36 L493.95 60.36Z" fill="#0b7050"/>
<path d="M415.55 59.95 L417.4 56.54 L413.7 56.54Z" fill="#41ade2"/>
<path d="M431.6 60.35 L433.45 56.94 L429.75 56.94Z" fill="#41ade2"/>
<path d="M447.65 60.95 L449.5 57.54 L445.8 57.54Z" fill="#41ade2"/>
<path d="M463.7 78.85 L465.55 75.44 L461.85 75.44Z" fill="#41ade2"/>
<path d="M479.75 94.5 V99.5 M477.95 94.5 H481.55 M477.95 99.5 H481.55" stroke="#41ade2" stroke-width="0.75" fill="none"/>
<path d="M479.75 98.25 L481.6 94.84 L477.9 94.84Z" fill="#41ade2"/>
<path d="M495.8 103.45 L497.65 100.04 L493.95 100.04Z" fill="#41ade2"/>
<path d="M415.55 48.75 L417.12 50.6 L415.55 52.45 L413.98 50.6Z" fill="#5a2a82"/>
<path d="M431.6 46.8 V50.5 M429.8 46.8 H433.4 M429.8 50.5 H433.4" stroke="#5a2a82" stroke-width="0.75" fill="none"/>
<path d="M431.6 46.45 L433.17 48.3 L431.6 50.15 L430.03 48.3Z" fill="#5a2a82"/>
<path d="M447.65 46 V51 M445.85 46 H449.45 M445.85 51 H449.45" stroke="#5a2a82" stroke-width="0.75" fill="none"/>
<path d="M447.65 46.45 L449.22 48.3 L447.65 50.15 L446.08 48.3Z" fill="#5a2a82"/>
<path d="M463.7 65.65 L465.27 67.5 L463.7 69.35 L462.13 67.5Z" fill="#5a2a82"/>
<path d="M479.75 101.35 L481.32 103.2 L479.75 105.05 L478.18 103.2Z" fill="#5a2a82"/>
<path d="M495.8 110.15 L497.37 112 L495.8 113.85 L494.23 112Z" fill="#5a2a82"/>
<rect x="413.87" y="54.82" width="3.36" height="3.36" fill="#c8102e"/>
<rect x="429.92" y="57.22" width="3.36" height="3.36" fill="#c8102e"/>
<path d="M447.65 73.2 V84.8 M445.85 73.2 H449.45 M445.85 84.8 H449.45" stroke="#c8102e" stroke-width="0.75" fill="none"/>
<rect x="445.97" y="77.72" width="3.36" height="3.36" fill="#c8102e"/>
<rect x="462.02" y="107.72" width="3.36" height="3.36" fill="#c8102e"/>
<rect x="478.07" y="111.72" width="3.36" height="3.36" fill="#c8102e"/>
<rect x="494.12" y="111.72" width="3.36" height="3.36" fill="#c8102e"/>
<path d="M415.55 57.7 V68 M413.75 57.7 H417.35 M413.75 68 H417.35" stroke="#f7941d" stroke-width="0.75" fill="none"/>
<circle cx="415.55" cy="61.9" r="1.8" fill="#f7941d"/>
<path d="M431.6 58.9 V67.5 M429.8 58.9 H433.4 M429.8 67.5 H433.4" stroke="#f7941d" stroke-width="0.75" fill="none"/>
<circle cx="431.6" cy="62.6" r="1.8" fill="#f7941d"/>
<path d="M447.65 82 V87 M445.85 82 H449.45 M445.85 87 H449.45" stroke="#f7941d" stroke-width="0.75" fill="none"/>
<circle cx="447.65" cy="84.8" r="1.8" fill="#f7941d"/>
<circle cx="463.7" cy="90.4" r="1.8" fill="#f7941d"/>
<circle cx="479.75" cy="99.5" r="1.8" fill="#f7941d"/>
<circle cx="495.8" cy="113" r="1.8" fill="#f7941d"/>
<text x="388.76" y="46.4" font-size="6.7" text-anchor="end" fill="#222222" textLength="22.33" lengthAdjust="spacingAndGlyphs">8.0×10</text>
<text x="389.06" y="43.9" font-size="4.7" text-anchor="start" fill="#222222" textLength="2.74" lengthAdjust="spacingAndGlyphs">6</text>
<text x="388.76" y="63.8" font-size="6.7" text-anchor="end" fill="#222222" textLength="22.33" lengthAdjust="spacingAndGlyphs">6.0×10</text>
<text x="389.06" y="61.3" font-size="4.7" text-anchor="start" fill="#222222" textLength="2.74" lengthAdjust="spacingAndGlyphs">6</text>
<text x="388.76" y="81.4" font-size="6.7" text-anchor="end" fill="#222222" textLength="22.33" lengthAdjust="spacingAndGlyphs">4.0×10</text>
<text x="389.06" y="78.9" font-size="4.7" text-anchor="start" fill="#222222" textLength="2.74" lengthAdjust="spacingAndGlyphs">6</text>
<text x="388.76" y="99" font-size="6.7" text-anchor="end" fill="#222222" textLength="22.33" lengthAdjust="spacingAndGlyphs">2.0×10</text>
<text x="389.06" y="96.5" font-size="4.7" text-anchor="start" fill="#222222" textLength="2.74" lengthAdjust="spacingAndGlyphs">6</text>
<text x="391.8" y="116.5" font-size="6.7" text-anchor="end" font-weight="normal" fill="#222222" textLength="4.02" lengthAdjust="spacingAndGlyphs">0</text>
<text x="391.51" y="127.1" font-size="6.9" fill="#222222" textLength="7.4" lengthAdjust="spacingAndGlyphs">10</text>
<text x="399.21" y="124" font-size="4.8" fill="#222222" textLength="5.47" lengthAdjust="spacingAndGlyphs">−5</text>
<text x="407.56" y="127.1" font-size="6.9" fill="#222222" textLength="7.4" lengthAdjust="spacingAndGlyphs">10</text>
<text x="415.26" y="124" font-size="4.8" fill="#222222" textLength="5.47" lengthAdjust="spacingAndGlyphs">−4</text>
<text x="423.61" y="127.1" font-size="6.9" fill="#222222" textLength="7.4" lengthAdjust="spacingAndGlyphs">10</text>
<text x="431.31" y="124" font-size="4.8" fill="#222222" textLength="5.47" lengthAdjust="spacingAndGlyphs">−3</text>
<text x="439.66" y="127.1" font-size="6.9" fill="#222222" textLength="7.4" lengthAdjust="spacingAndGlyphs">10</text>
<text x="447.36" y="124" font-size="4.8" fill="#222222" textLength="5.47" lengthAdjust="spacingAndGlyphs">−2</text>
<text x="455.71" y="127.1" font-size="6.9" fill="#222222" textLength="7.4" lengthAdjust="spacingAndGlyphs">10</text>
<text x="463.41" y="124" font-size="4.8" fill="#222222" textLength="5.47" lengthAdjust="spacingAndGlyphs">−1</text>
<text x="473.97" y="127.1" font-size="6.9" fill="#222222" textLength="7.4" lengthAdjust="spacingAndGlyphs">10</text>
<text x="481.67" y="124" font-size="4.8" fill="#222222" textLength="2.67" lengthAdjust="spacingAndGlyphs">0</text>
<text x="490.02" y="127.1" font-size="6.9" fill="#222222" textLength="7.4" lengthAdjust="spacingAndGlyphs">10</text>
<text x="497.72" y="124" font-size="4.8" fill="#222222" textLength="2.67" lengthAdjust="spacingAndGlyphs">1</text>
<text x="506.07" y="127.1" font-size="6.9" fill="#222222" textLength="7.4" lengthAdjust="spacingAndGlyphs">10</text>
<text x="513.77" y="124" font-size="4.8" fill="#222222" textLength="2.67" lengthAdjust="spacingAndGlyphs">2</text>
<text x="452.7" y="140.6" font-size="8.3" text-anchor="middle" fill="#333" style="stroke:#333;stroke-width:0.42px" textLength="49.6" lengthAdjust="spacingAndGlyphs">Compound [µM]</text>
<path d="M391.3 157.9 H399.9" stroke="#f7941d" stroke-width="0.95"/>
<circle cx="395.6" cy="157.9" r="1.84" fill="#f7941d"/>
<text x="402.9" y="156" font-size="5.85" text-anchor="start" font-weight="normal" fill="#222222">Ibrutinib</text>
<text x="402.9" y="163.6" font-size="6.2" fill="#222222">IC<tspan font-size="3.3" dy="1.5">50</tspan><tspan dy="-1.5"> = 0.01 µM</tspan></text>
<path d="M391.3 177.7 H399.9" stroke="#5a2a82" stroke-width="0.95"/>
<path d="M395.6 175.81 L397.2 177.7 L395.6 179.59 L394 177.7Z" fill="#5a2a82"/>
<text x="402.9" y="175.8" font-size="5.85" text-anchor="start" font-weight="normal" fill="#222222">ARQ-531</text>
<text x="402.9" y="183.4" font-size="6.2" fill="#222222">IC<tspan font-size="3.3" dy="1.5">50</tspan><tspan dy="-1.5"> = 0.194 µM</tspan></text>
<path d="M391.3 197.5 H399.9" stroke="#0b7050" stroke-width="0.95"/>
<path d="M395.6 195.51 L397.49 198.99 L393.71 198.99Z" fill="#0b7050"/>
<text x="402.9" y="195.6" font-size="5.85" text-anchor="start" font-weight="normal" fill="#222222">Thalidomide</text>
<text x="402.9" y="203.2" font-size="6.2" fill="#222222">IC<tspan font-size="3.3" dy="1.5">50</tspan><tspan dy="-1.5"> = n/a</tspan></text>
<path d="M460 157.9 H468.6" stroke="#41ade2" stroke-width="0.95"/>
<path d="M464.3 159.89 L466.19 156.41 L462.41 156.41Z" fill="#41ade2"/>
<text x="471.5" y="156" font-size="5.85" text-anchor="start" font-weight="normal" fill="#222222">Lenalidomide</text>
<text x="471.5" y="163.6" font-size="6.2" fill="#222222">IC<tspan font-size="3.3" dy="1.5">50</tspan><tspan dy="-1.5"> = 0.116 µM</tspan></text>
<path d="M460 177.7 H468.6" stroke="#c8102e" stroke-width="0.95"/>
<rect x="462.59" y="175.99" width="3.43" height="3.43" fill="#c8102e"/>
<text x="471.5" y="175.8" font-size="5.85" text-anchor="start" font-weight="normal" fill="#222222">UBX-382</text>
<text x="471.5" y="183.4" font-size="6.2" fill="#222222">IC<tspan font-size="3.3" dy="1.5">50</tspan><tspan dy="-1.5"> = 0.014 µM</tspan></text>
</g>
<g>
<text x="107.7" y="232" font-size="9.8" text-anchor="middle" font-weight="normal" fill="#222222" textLength="52.4" lengthAdjust="spacingAndGlyphs">CML : K562</text>
<text x="107.7" y="244.3" font-size="7.2" text-anchor="middle" font-weight="normal" fill="#222222" textLength="16.9" lengthAdjust="spacingAndGlyphs">K562</text>
<text transform="translate(12.4 286.7) rotate(-90)" font-size="8.1" text-anchor="middle" fill="#333" style="stroke:#333;stroke-width:0.42px" textLength="61.4" lengthAdjust="spacingAndGlyphs">Luminescence (RLU)</text>
<path d="M50.9 249.9 V323.85 H163.25" fill="none" stroke="#2b2b2b" stroke-width="1.4"/>
<path d="M47.3 253.6 H50.9 M47.3 263.5 H50.9 M47.3 273.4 H50.9 M47.3 283.4 H50.9 M47.3 293.4 H50.9 M47.3 303.3 H50.9 M47.3 313.5 H50.9 M47.3 323.85 H50.9 M50.9 323.85 V327.45 M66.55 323.85 V327.45 M82.2 323.85 V327.45 M97.85 323.85 V327.45 M113.5 323.85 V327.45 M129.15 323.85 V327.45 M144.8 323.85 V327.45 M160.45 323.85 V327.45 " stroke="#2b2b2b" stroke-width="1.1" fill="none"/>
<path d="M66.55 265.9 L68.11 265.9 L70.14 265.9 L72.54 265.9 L75.24 265.9 L78.17 265.89 L81.22 265.89 L84.33 265.89 L87.42 265.89 L90.39 265.89 L93.18 265.89 L95.69 265.9 L97.85 265.9 L99.7 265.9 L101.36 265.91 L102.86 265.91 L104.23 265.91 L105.48 265.91 L106.65 265.91 L107.77 265.92 L108.86 265.93 L109.95 265.94 L111.07 265.95 L112.25 265.97 L113.5 266 L114.8 266.03 L116.11 266.07 L117.41 266.11 L118.72 266.15 L120.02 266.19 L121.33 266.24 L122.63 266.3 L123.93 266.35 L125.24 266.41 L126.54 266.47 L127.85 266.53 L129.15 266.6 L130.5 266.67 L131.94 266.76 L133.43 266.85 L134.95 266.94 L136.46 267.04 L137.95 267.14 L139.39 267.23 L140.74 267.33 L141.99 267.41 L143.1 267.49 L144.04 267.55 L144.8 267.6" fill="none" stroke="#41ade2" stroke-width="1.05" stroke-linejoin="round"/>
<path d="M66.55 264.2 L144.8 264.2" fill="none" stroke="#0b7050" stroke-width="1.05" stroke-linejoin="round"/>
<path d="M66.55 270.1 L67.55 270.1 L68.55 270.1 L69.55 270.1 L70.55 270.1 L71.55 270.1 L72.55 270.1 L73.55 270.1 L74.55 270.1 L75.55 270.1 L76.55 270.1 L77.55 270.1 L78.55 270.1 L79.55 270.1 L80.55 270.1 L81.55 270.1 L82.55 270.1 L83.55 270.1 L84.55 270.1 L85.55 270.1 L86.55 270.1 L87.55 270.1 L88.55 270.1 L89.55 270.1 L90.55 270.1 L91.55 270.1 L92.55 270.1 L93.55 270.1 L94.55 270.1 L95.55 270.1 L96.55 270.1 L97.55 270.1 L98.55 270.1 L99.55 270.1 L100.55 270.1 L101.55 270.1 L102.55 270.1 L103.55 270.1 L104.55 270.1 L105.55 270.1 L106.55 270.1 L107.55 270.1 L108.55 270.1 L109.55 270.1 L110.55 270.1 L111.55 270.1 L112.55 270.1 L113.55 270.1 L114.55 270.1 L115.55 270.1 L116.55 270.1 L117.55 270.1 L118.55 270.1 L119.55 270.1 L120.55 270.11 L121.55 270.11 L122.55 270.11 L123.55 270.12 L124.55 270.13 L125.55 270.15 L126.55 270.17 L127.55 270.2 L128.55 270.25 L129.55 270.33 L130.55 270.43 L131.55 270.59 L132.55 270.82 L133.55 271.16 L134.55 271.67 L135.55 272.4 L136.55 273.47 L137.55 275.01 L138.55 277.23 L139.55 280.36 L140.55 284.7 L141.55 290.57 L142.55 298.21 L143.55 307.73 L144.55 318.93 L144.8 321.94" fill="none" stroke="#f7941d" stroke-width="1.05" stroke-linejoin="round"/>
<path d="M66.55 265.9 L67.55 265.9 L68.55 265.9 L69.55 265.9 L70.55 265.9 L71.55 265.9 L72.55 265.9 L73.55 265.9 L74.55 265.9 L75.55 265.9 L76.55 265.9 L77.55 265.9 L78.55 265.9 L79.55 265.9 L80.55 265.9 L81.55 265.9 L82.55 265.9 L83.55 265.9 L84.55 265.9 L85.55 265.9 L86.55 265.9 L87.55 265.9 L88.55 265.9 L89.55 265.9 L90.55 265.9 L91.55 265.9 L92.55 265.9 L93.55 265.9 L94.55 265.9 L95.55 265.9 L96.55 265.9 L97.55 265.9 L98.55 265.9 L99.55 265.9 L100.55 265.9 L101.55 265.9 L102.55 265.9 L103.55 265.91 L104.55 265.91 L105.55 265.91 L106.55 265.91 L107.55 265.92 L108.55 265.92 L109.55 265.93 L110.55 265.94 L111.55 265.95 L112.55 265.97 L113.55 265.99 L114.55 266.02 L115.55 266.06 L116.55 266.1 L117.55 266.17 L118.55 266.26 L119.55 266.37 L120.55 266.52 L121.55 266.72 L122.55 266.97 L123.55 267.31 L124.55 267.75 L125.55 268.32 L126.55 269.05 L127.55 270 L128.55 271.21 L129.55 272.72 L130.55 274.62 L131.55 276.93 L132.55 279.7 L133.55 282.95 L134.55 286.65 L135.55 290.72 L136.55 295.06 L137.55 299.51 L138.55 303.9 L139.55 308.06 L140.55 311.88 L141.55 315.27 L142.55 318.19 L143.55 320.64 L144.55 322.65 L144.8 323.09" fill="none" stroke="#5a2a82" stroke-width="1.05" stroke-linejoin="round"/>
<path d="M66.6 264.7 L66.67 264.56 L66.77 264.37 L66.88 264.15 L67 263.9 L67.14 263.65 L67.28 263.4 L67.44 263.18 L67.6 263 L67.76 262.85 L67.93 262.71 L68.1 262.59 L68.29 262.47 L68.49 262.38 L68.7 262.3 L68.94 262.24 L69.2 262.2 L69.48 262.18 L69.79 262.17 L70.11 262.17 L70.45 262.2 L70.81 262.24 L71.19 262.31 L71.58 262.39 L72 262.5 L72.44 262.63 L72.91 262.77 L73.4 262.93 L73.91 263.11 L74.43 263.32 L74.96 263.55 L75.48 263.81 L76 264.1 L76.54 264.45 L77.13 264.88 L77.74 265.36 L78.35 265.85 L78.92 266.33 L79.44 266.77 L79.87 267.13 L80.2 267.52 L81.2 269.58 L82.2 272.09 L83.2 275.06 L84.2 278.51 L85.2 282.39 L86.2 286.6 L87.2 291.01 L88.2 295.45 L89.2 299.76 L90.2 303.78 L91.2 307.41 L92.2 310.58 L93.2 313.27 L94.2 315.51 L95.2 317.32 L96.2 318.78 L97.2 319.93 L98.2 320.83 L99.2 321.53 L100.2 322.07 L101.2 322.48 L102.2 322.8 L103.2 323.04 L104.2 323.22 L105.2 323.36 L106.2 323.47 L107.2 323.55 L108.2 323.61 L109.2 323.66 L110.2 323.69 L111.2 323.72 L112.2 323.74 L113.2 323.75 L114.2 323.76 L115.2 323.77 L116 323.78" fill="none" stroke="#c8102e" stroke-width="1.05" stroke-linejoin="round"/>
<path d="M66.55 268.15 L68.4 264.74 L64.7 264.74Z" fill="#41ade2"/>
<path d="M82.2 268.35 L84.05 264.94 L80.35 264.94Z" fill="#41ade2"/>
<path d="M97.85 268.35 L99.7 264.94 L96 264.94Z" fill="#41ade2"/>
<path d="M113.5 270.35 L115.35 266.94 L111.65 266.94Z" fill="#41ade2"/>
<path d="M129.15 270.35 L131 266.94 L127.3 266.94Z" fill="#41ade2"/>
<path d="M144.8 269.15 L146.65 265.74 L142.95 265.74Z" fill="#41ade2"/>
<path d="M66.55 263.25 L68.4 266.66 L64.7 266.66Z" fill="#0b7050"/>
<path d="M82.2 262.55 L84.05 265.96 L80.35 265.96Z" fill="#0b7050"/>
<path d="M97.85 262.55 L99.7 265.96 L96 265.96Z" fill="#0b7050"/>
<path d="M113.5 259.75 L115.35 263.16 L111.65 263.16Z" fill="#0b7050"/>
<path d="M129.15 261.55 L131 264.96 L127.3 264.96Z" fill="#0b7050"/>
<path d="M144.8 265.65 L146.65 269.06 L142.95 269.06Z" fill="#0b7050"/>
<path d="M66.55 267.05 L68.12 268.9 L66.55 270.75 L64.98 268.9Z" fill="#5a2a82"/>
<path d="M82.2 263.65 L83.77 265.5 L82.2 267.35 L80.63 265.5Z" fill="#5a2a82"/>
<path d="M97.85 263.65 L99.42 265.5 L97.85 267.35 L96.28 265.5Z" fill="#5a2a82"/>
<path d="M113.5 264.15 L115.07 266 L113.5 267.85 L111.93 266Z" fill="#5a2a82"/>
<path d="M129.15 274.65 L130.72 276.5 L129.15 278.35 L127.58 276.5Z" fill="#5a2a82"/>
<path d="M144.8 320.95 L146.37 322.8 L144.8 324.65 L143.23 322.8Z" fill="#5a2a82"/>
<rect x="64.87" y="263.02" width="3.36" height="3.36" fill="#c8102e"/>
<rect x="80.52" y="266.72" width="3.36" height="3.36" fill="#c8102e"/>
<rect x="96.17" y="321.52" width="3.36" height="3.36" fill="#c8102e"/>
<rect x="111.82" y="321.52" width="3.36" height="3.36" fill="#c8102e"/>
<rect x="127.47" y="321.52" width="3.36" height="3.36" fill="#c8102e"/>
<circle cx="66.55" cy="273.8" r="1.8" fill="#f7941d"/>
<circle cx="82.2" cy="270.1" r="1.8" fill="#f7941d"/>
<circle cx="97.85" cy="270" r="1.8" fill="#f7941d"/>
<circle cx="113.5" cy="268.6" r="1.8" fill="#f7941d"/>
<circle cx="129.15" cy="270" r="1.8" fill="#f7941d"/>
<circle cx="144.8" cy="322.6" r="1.8" fill="#f7941d"/>
<text x="41.16" y="256.2" font-size="6.7" text-anchor="end" fill="#222222" textLength="22.33" lengthAdjust="spacingAndGlyphs">1.8×10</text>
<text x="41.46" y="253.7" font-size="4.7" text-anchor="start" fill="#222222" textLength="2.74" lengthAdjust="spacingAndGlyphs">7</text>
<text x="41.16" y="266.1" font-size="6.7" text-anchor="end" fill="#222222" textLength="22.33" lengthAdjust="spacingAndGlyphs">1.5×10</text>
<text x="41.46" y="263.6" font-size="4.7" text-anchor="start" fill="#222222" textLength="2.74" lengthAdjust="spacingAndGlyphs">7</text>
<text x="41.16" y="276" font-size="6.7" text-anchor="end" fill="#222222" textLength="22.33" lengthAdjust="spacingAndGlyphs">1.3×10</text>
<text x="41.46" y="273.5" font-size="4.7" text-anchor="start" fill="#222222" textLength="2.74" lengthAdjust="spacingAndGlyphs">7</text>
<text x="41.16" y="286" font-size="6.7" text-anchor="end" fill="#222222" textLength="22.33" lengthAdjust="spacingAndGlyphs">1.0×10</text>
<text x="41.46" y="283.5" font-size="4.7" text-anchor="start" fill="#222222" textLength="2.74" lengthAdjust="spacingAndGlyphs">7</text>
<text x="41.16" y="296" font-size="6.7" text-anchor="end" fill="#222222" textLength="22.33" lengthAdjust="spacingAndGlyphs">7.5×10</text>
<text x="41.46" y="293.5" font-size="4.7" text-anchor="start" fill="#222222" textLength="2.74" lengthAdjust="spacingAndGlyphs">6</text>
<text x="41.16" y="305.9" font-size="6.7" text-anchor="end" fill="#222222" textLength="22.33" lengthAdjust="spacingAndGlyphs">5.0×10</text>
<text x="41.46" y="303.4" font-size="4.7" text-anchor="start" fill="#222222" textLength="2.74" lengthAdjust="spacingAndGlyphs">6</text>
<text x="41.16" y="316.1" font-size="6.7" text-anchor="end" fill="#222222" textLength="22.33" lengthAdjust="spacingAndGlyphs">2.5×10</text>
<text x="41.46" y="313.6" font-size="4.7" text-anchor="start" fill="#222222" textLength="2.74" lengthAdjust="spacingAndGlyphs">6</text>
<text x="44.2" y="326.45" font-size="6.7" text-anchor="end" font-weight="normal" fill="#222222" textLength="4.02" lengthAdjust="spacingAndGlyphs">0</text>
<text x="43.01" y="336.5" font-size="6.9" fill="#222222" textLength="7.4" lengthAdjust="spacingAndGlyphs">10</text>
<text x="50.71" y="333.4" font-size="4.8" fill="#222222" textLength="5.47" lengthAdjust="spacingAndGlyphs">−5</text>
<text x="58.66" y="336.5" font-size="6.9" fill="#222222" textLength="7.4" lengthAdjust="spacingAndGlyphs">10</text>
<text x="66.36" y="333.4" font-size="4.8" fill="#222222" textLength="5.47" lengthAdjust="spacingAndGlyphs">−4</text>
<text x="74.31" y="336.5" font-size="6.9" fill="#222222" textLength="7.4" lengthAdjust="spacingAndGlyphs">10</text>
<text x="82.01" y="333.4" font-size="4.8" fill="#222222" textLength="5.47" lengthAdjust="spacingAndGlyphs">−3</text>
<text x="89.96" y="336.5" font-size="6.9" fill="#222222" textLength="7.4" lengthAdjust="spacingAndGlyphs">10</text>
<text x="97.66" y="333.4" font-size="4.8" fill="#222222" textLength="5.47" lengthAdjust="spacingAndGlyphs">−2</text>
<text x="105.61" y="336.5" font-size="6.9" fill="#222222" textLength="7.4" lengthAdjust="spacingAndGlyphs">10</text>
<text x="113.31" y="333.4" font-size="4.8" fill="#222222" textLength="5.47" lengthAdjust="spacingAndGlyphs">−1</text>
<text x="123.57" y="336.5" font-size="6.9" fill="#222222" textLength="7.4" lengthAdjust="spacingAndGlyphs">10</text>
<text x="131.27" y="333.4" font-size="4.8" fill="#222222" textLength="2.67" lengthAdjust="spacingAndGlyphs">0</text>
<text x="139.22" y="336.5" font-size="6.9" fill="#222222" textLength="7.4" lengthAdjust="spacingAndGlyphs">10</text>
<text x="146.92" y="333.4" font-size="4.8" fill="#222222" textLength="2.67" lengthAdjust="spacingAndGlyphs">1</text>
<text x="154.87" y="336.5" font-size="6.9" fill="#222222" textLength="7.4" lengthAdjust="spacingAndGlyphs">10</text>
<text x="162.57" y="333.4" font-size="4.8" fill="#222222" textLength="2.67" lengthAdjust="spacingAndGlyphs">2</text>
<text x="107.3" y="349.2" font-size="8.3" text-anchor="middle" fill="#333" style="stroke:#333;stroke-width:0.42px" textLength="49.6" lengthAdjust="spacingAndGlyphs">Compound [µM]</text>
<path d="M46.6 366.2 H55.2" stroke="#f7941d" stroke-width="0.95"/>
<circle cx="50.9" cy="366.2" r="1.84" fill="#f7941d"/>
<text x="59.1" y="364.3" font-size="5.85" text-anchor="start" font-weight="normal" fill="#222222">Ibrutinib</text>
<text x="59.1" y="371.9" font-size="6.2" fill="#222222">IC<tspan font-size="3.3" dy="1.5">50</tspan><tspan dy="-1.5"> = n/a</tspan></text>
<path d="M46.6 386 H55.2" stroke="#5a2a82" stroke-width="0.95"/>
<path d="M50.9 384.11 L52.5 386 L50.9 387.89 L49.3 386Z" fill="#5a2a82"/>
<text x="59.1" y="384.1" font-size="5.85" text-anchor="start" font-weight="normal" fill="#222222">ARQ-531</text>
<text x="59.1" y="391.7" font-size="6.2" fill="#222222">IC<tspan font-size="3.3" dy="1.5">50</tspan><tspan dy="-1.5"> = n/a</tspan></text>
<path d="M46.6 405.8 H55.2" stroke="#0b7050" stroke-width="0.95"/>
<path d="M50.9 403.81 L52.79 407.29 L49.01 407.29Z" fill="#0b7050"/>
<text x="59.1" y="403.9" font-size="5.85" text-anchor="start" font-weight="normal" fill="#222222">Thalidomide</text>
<text x="59.1" y="411.5" font-size="6.2" fill="#222222">IC<tspan font-size="3.3" dy="1.5">50</tspan><tspan dy="-1.5"> = n/a</tspan></text>
<path d="M112.1 366.2 H120.7" stroke="#41ade2" stroke-width="0.95"/>
<path d="M116.4 368.19 L118.29 364.71 L114.51 364.71Z" fill="#41ade2"/>
<text x="123.7" y="364.3" font-size="5.85" text-anchor="start" font-weight="normal" fill="#222222">Lenalidomide</text>
<text x="123.7" y="371.9" font-size="6.2" fill="#222222">IC<tspan font-size="3.3" dy="1.5">50</tspan><tspan dy="-1.5"> = n/a</tspan></text>
<path d="M112.1 386 H120.7" stroke="#c8102e" stroke-width="0.95"/>
<rect x="114.69" y="384.29" width="3.43" height="3.43" fill="#c8102e"/>
<text x="123.7" y="384.1" font-size="5.85" text-anchor="start" font-weight="normal" fill="#222222">UBX-382</text>
<text x="123.7" y="391.7" font-size="6.2" fill="#222222">IC<tspan font-size="3.3" dy="1.5">50</tspan><tspan dy="-1.5"> = 0.002 µM</tspan></text>
</g>
<g>
<text x="278.8" y="233.2" font-size="9.8" text-anchor="middle" font-weight="normal" fill="#222222" textLength="69.2" lengthAdjust="spacingAndGlyphs">WM : WSU-WM</text>
<text x="278.6" y="244.9" font-size="7.2" text-anchor="middle" font-weight="normal" fill="#222222" textLength="32.8" lengthAdjust="spacingAndGlyphs">WSU-WM</text>
<text transform="translate(185.6 283.7) rotate(-90)" font-size="8.1" text-anchor="middle" fill="#333" style="stroke:#333;stroke-width:0.42px" textLength="61.4" lengthAdjust="spacingAndGlyphs">Luminescence (RLU)</text>
<path d="M222 251.1 V322.55 H334.98" fill="none" stroke="#2b2b2b" stroke-width="1.2"/>
<path d="M218.4 254.1 H222 M218.4 271 H222 M218.4 288.1 H222 M218.4 305.4 H222 M218.4 322.55 H222 M222 322.55 V326.15 M237.74 322.55 V326.15 M253.48 322.55 V326.15 M269.22 322.55 V326.15 M284.96 322.55 V326.15 M300.7 322.55 V326.15 M316.44 322.55 V326.15 M332.18 322.55 V326.15 " stroke="#2b2b2b" stroke-width="1.1" fill="none"/>
<path d="M237.6 272.6 L238.39 272.7 L239.47 272.86 L240.76 273.03 L242.17 273.21 L243.61 273.37 L245 273.5 L246.28 273.58 L247.52 273.64 L248.79 273.68 L250.17 273.71 L251.75 273.75 L253.6 273.8 L255.89 273.84 L258.57 273.87 L261.45 273.91 L264.32 273.96 L266.97 274.05 L269.2 274.2 L270.95 274.41 L272.36 274.65 L273.56 274.94 L274.66 275.26 L275.77 275.61 L277 276 L278.35 276.44 L279.72 276.95 L281.1 277.49 L282.48 278.03 L283.85 278.54 L285.2 279 L286.52 279.41 L287.83 279.79 L289.13 280.14 L290.42 280.47 L291.71 280.75 L293 281 L294.2 281.2 L295.28 281.34 L296.36 281.46 L297.54 281.54 L298.95 281.62 L300.7 281.7 L303.04 281.78 L305.92 281.84 L309.03 281.89 L312.03 281.94 L314.6 281.97 L316.4 282" fill="none" stroke="#41ade2" stroke-width="1.05" stroke-linejoin="round"/>
<path d="M237.74 269.6 L237.86 269.79 L238.01 270.03 L238.19 270.32 L238.39 270.64 L238.6 270.99 L238.83 271.36 L239.07 271.73 L239.31 272.11 L239.56 272.49 L239.79 272.85 L240.02 273.19 L240.24 273.5 L240.44 273.79 L240.64 274.08 L240.83 274.37 L241.02 274.66 L241.21 274.93 L241.4 275.21 L241.59 275.47 L241.8 275.72 L242.01 275.96 L242.24 276.19 L242.48 276.4 L242.74 276.6 L243.01 276.78 L243.29 276.95 L243.57 277.1 L243.86 277.24 L244.16 277.36 L244.47 277.48 L244.8 277.59 L245.15 277.69 L245.51 277.77 L245.9 277.86 L246.31 277.93 L246.74 278 L247.13 278.06 L247.42 278.11 L247.65 278.14 L247.87 278.16 L248.1 278.18 L248.39 278.19 L248.78 278.19 L249.3 278.19 L249.99 278.19 L250.89 278.19 L252.04 278.19 L253.48 278.2 L255.24 278.21 L257.29 278.21 L259.61 278.21 L262.14 278.21 L264.84 278.21 L267.67 278.21 L270.59 278.21 L273.55 278.21 L276.51 278.2 L279.43 278.2 L282.26 278.2 L284.96 278.2 L287.68 278.2 L290.57 278.2 L293.57 278.2 L296.62 278.2 L299.67 278.2 L302.67 278.2 L305.55 278.2 L308.28 278.2 L310.78 278.2 L313.02 278.2 L314.92 278.2 L316.44 278.2" fill="none" stroke="#0b7050" stroke-width="1.05" stroke-linejoin="round"/>
<path d="M237.74 278.2 L238.74 278.2 L239.74 278.2 L240.74 278.2 L241.74 278.2 L242.74 278.2 L243.74 278.2 L244.74 278.2 L245.74 278.2 L246.74 278.2 L247.74 278.2 L248.74 278.2 L249.74 278.2 L250.74 278.2 L251.74 278.2 L252.74 278.2 L253.74 278.2 L254.74 278.2 L255.74 278.2 L256.74 278.2 L257.74 278.2 L258.74 278.2 L259.74 278.2 L260.74 278.2 L261.74 278.2 L262.74 278.2 L263.74 278.2 L264.74 278.2 L265.74 278.2 L266.74 278.2 L267.74 278.2 L268.74 278.2 L269.74 278.2 L270.74 278.2 L271.74 278.2 L272.74 278.2 L273.74 278.2 L274.74 278.2 L275.74 278.2 L276.74 278.2 L277.74 278.2 L278.74 278.2 L279.74 278.2 L280.74 278.2 L281.74 278.2 L282.74 278.2 L283.74 278.2 L284.74 278.2 L285.74 278.2 L286.74 278.2 L287.74 278.2 L288.74 278.2 L289.74 278.2 L290.74 278.2 L291.74 278.2 L292.74 278.2 L293.74 278.2 L294.74 278.2 L295.74 278.21 L296.74 278.21 L297.74 278.22 L298.74 278.22 L299.74 278.24 L300.74 278.26 L301.74 278.29 L302.74 278.34 L303.74 278.41 L304.74 278.52 L305.74 278.7 L306.74 278.97 L307.74 279.39 L308.74 280.02 L309.74 280.98 L310.74 282.4 L311.74 284.46 L312.74 287.35 L313.74 291.23 L314.74 296.15 L315.74 301.91 L316.44 306.23" fill="none" stroke="#f7941d" stroke-width="1.05" stroke-linejoin="round"/>
<path d="M237.74 278.7 L238.74 278.7 L239.74 278.7 L240.74 278.7 L241.74 278.7 L242.74 278.7 L243.74 278.7 L244.74 278.7 L245.74 278.7 L246.74 278.7 L247.74 278.7 L248.74 278.7 L249.74 278.7 L250.74 278.7 L251.74 278.7 L252.74 278.7 L253.74 278.7 L254.74 278.7 L255.74 278.7 L256.74 278.7 L257.74 278.7 L258.74 278.7 L259.74 278.7 L260.74 278.7 L261.74 278.7 L262.74 278.7 L263.74 278.7 L264.74 278.7 L265.74 278.7 L266.74 278.7 L267.74 278.7 L268.74 278.7 L269.74 278.7 L270.74 278.7 L271.74 278.7 L272.74 278.7 L273.74 278.7 L274.74 278.7 L275.74 278.7 L276.74 278.7 L277.74 278.7 L278.74 278.7 L279.74 278.7 L280.74 278.7 L281.74 278.7 L282.74 278.7 L283.74 278.7 L284.74 278.7 L285.74 278.7 L286.74 278.7 L287.74 278.7 L288.74 278.7 L289.74 278.7 L290.74 278.7 L291.74 278.7 L292.74 278.7 L293.74 278.7 L294.74 278.71 L295.74 278.71 L296.74 278.72 L297.74 278.73 L298.74 278.74 L299.74 278.76 L300.74 278.8 L301.74 278.85 L302.74 278.93 L303.74 279.06 L304.74 279.25 L305.74 279.54 L306.74 279.99 L307.74 280.64 L308.74 281.6 L309.74 282.94 L310.74 284.74 L311.74 287.01 L312.74 289.68 L313.74 292.54 L314.74 295.34 L315.74 297.84 L316.44 299.32" fill="none" stroke="#5a2a82" stroke-width="1.05" stroke-linejoin="round"/>
<path d="M237.74 279.5 L238.74 279.5 L239.74 279.5 L240.74 279.5 L241.74 279.5 L242.74 279.5 L243.74 279.5 L244.74 279.5 L245.74 279.5 L246.74 279.5 L247.74 279.5 L248.74 279.5 L249.74 279.5 L250.74 279.5 L251.74 279.5 L252.74 279.5 L253.74 279.5 L254.74 279.5 L255.74 279.5 L256.74 279.5 L257.74 279.5 L258.74 279.5 L259.74 279.5 L260.74 279.5 L261.74 279.5 L262.74 279.5 L263.74 279.5 L264.74 279.5 L265.74 279.5 L266.74 279.5 L267.74 279.5 L268.74 279.5 L269.74 279.5 L270.74 279.51 L271.74 279.51 L272.74 279.51 L273.74 279.52 L274.74 279.52 L275.74 279.54 L276.74 279.55 L277.74 279.58 L278.74 279.61 L279.74 279.66 L280.74 279.73 L281.74 279.84 L282.74 279.99 L283.74 280.21 L284.74 280.52 L285.74 280.96 L286.74 281.55 L287.74 282.34 L288.74 283.36 L289.74 284.62 L290.74 286.08 L291.74 287.68 L292.74 289.3 L293.74 290.85 L294.74 292.22 L295.74 293.36 L296.74 294.27 L297.74 294.96 L298.74 295.47 L299.74 295.84 L300.74 296.1 L301.74 296.29 L302.74 296.42 L303.74 296.5 L304.74 296.57 L305.74 296.61 L306.74 296.64 L307.74 296.66 L308.74 296.67 L309.74 296.68 L310.74 296.69 L311.74 296.69 L312.74 296.69 L313.74 296.7 L314.74 296.7 L315.74 296.7 L316.44 296.7" fill="none" stroke="#c8102e" stroke-width="1.05" stroke-linejoin="round"/>
<path d="M237.74 263.5 V272 M235.94 263.5 H239.54 M235.94 272 H239.54" stroke="#41ade2" stroke-width="0.75" fill="none"/>
<path d="M237.74 269.65 L239.59 266.24 L235.89 266.24Z" fill="#41ade2"/>
<path d="M253.48 277.75 L255.33 274.34 L251.63 274.34Z" fill="#41ade2"/>
<path d="M269.22 273.95 L271.07 270.54 L267.37 270.54Z" fill="#41ade2"/>
<path d="M284.96 280.95 L286.81 277.54 L283.11 277.54Z" fill="#41ade2"/>
<path d="M300.7 283.95 L302.55 280.54 L298.85 280.54Z" fill="#41ade2"/>
<path d="M316.44 284.35 L318.29 280.94 L314.59 280.94Z" fill="#41ade2"/>
<path d="M237.74 267.65 L239.59 271.06 L235.89 271.06Z" fill="#0b7050"/>
<path d="M253.48 279.95 L255.33 283.36 L251.63 283.36Z" fill="#0b7050"/>
<path d="M269.22 274.55 L271.07 277.96 L267.37 277.96Z" fill="#0b7050"/>
<path d="M284.96 279.25 L286.81 282.66 L283.11 282.66Z" fill="#0b7050"/>
<path d="M300.7 278.75 L302.55 282.16 L298.85 282.16Z" fill="#0b7050"/>
<path d="M316.44 270.85 L318.29 274.26 L314.59 274.26Z" fill="#0b7050"/>
<circle cx="237.74" cy="284.4" r="1.8" fill="#f7941d"/>
<circle cx="253.48" cy="284.9" r="1.8" fill="#f7941d"/>
<path d="M269.22 266.5 V271.5 M267.42 266.5 H271.02 M267.42 271.5 H271.02" stroke="#f7941d" stroke-width="0.75" fill="none"/>
<circle cx="269.22" cy="268.9" r="1.8" fill="#f7941d"/>
<circle cx="284.96" cy="277" r="1.8" fill="#f7941d"/>
<path d="M300.7 274.4 V278.4 M298.9 274.4 H302.5 M298.9 278.4 H302.5" stroke="#f7941d" stroke-width="0.75" fill="none"/>
<circle cx="300.7" cy="276.3" r="1.8" fill="#f7941d"/>
<circle cx="316.44" cy="310.2" r="1.8" fill="#f7941d"/>
<path d="M237.74 275.65 L239.31 277.5 L237.74 279.35 L236.17 277.5Z" fill="#5a2a82"/>
<path d="M253.48 278.15 L255.05 280 L253.48 281.85 L251.91 280Z" fill="#5a2a82"/>
<path d="M269.22 275.15 L270.79 277 L269.22 278.85 L267.65 277Z" fill="#5a2a82"/>
<path d="M284.96 280.55 L286.53 282.4 L284.96 284.25 L283.39 282.4Z" fill="#5a2a82"/>
<path d="M300.7 280.15 L302.27 282 L300.7 283.85 L299.13 282Z" fill="#5a2a82"/>
<path d="M316.44 294.85 L318.01 296.7 L316.44 298.55 L314.87 296.7Z" fill="#5a2a82"/>
<rect x="236.06" y="275.32" width="3.36" height="3.36" fill="#c8102e"/>
<rect x="251.8" y="277.82" width="3.36" height="3.36" fill="#c8102e"/>
<rect x="267.54" y="276.52" width="3.36" height="3.36" fill="#c8102e"/>
<rect x="283.28" y="280.32" width="3.36" height="3.36" fill="#c8102e"/>
<rect x="299.02" y="295.72" width="3.36" height="3.36" fill="#c8102e"/>
<rect x="314.76" y="295.02" width="3.36" height="3.36" fill="#c8102e"/>
<text x="213.06" y="256.7" font-size="6.7" text-anchor="end" fill="#222222" textLength="16.3" lengthAdjust="spacingAndGlyphs">1×10</text>
<text x="213.36" y="254.2" font-size="4.7" text-anchor="start" fill="#222222" textLength="2.74" lengthAdjust="spacingAndGlyphs">7</text>
<text x="213.06" y="273.6" font-size="6.7" text-anchor="end" fill="#222222" textLength="22.33" lengthAdjust="spacingAndGlyphs">7.5×10</text>
<text x="213.36" y="271.1" font-size="4.7" text-anchor="start" fill="#222222" textLength="2.74" lengthAdjust="spacingAndGlyphs">6</text>
<text x="213.06" y="290.7" font-size="6.7" text-anchor="end" fill="#222222" textLength="16.3" lengthAdjust="spacingAndGlyphs">5×10</text>
<text x="213.36" y="288.2" font-size="4.7" text-anchor="start" fill="#222222" textLength="2.74" lengthAdjust="spacingAndGlyphs">6</text>
<text x="213.06" y="308" font-size="6.7" text-anchor="end" fill="#222222" textLength="22.33" lengthAdjust="spacingAndGlyphs">2.5×10</text>
<text x="213.36" y="305.5" font-size="4.7" text-anchor="start" fill="#222222" textLength="2.74" lengthAdjust="spacingAndGlyphs">6</text>
<text x="216.1" y="325.15" font-size="6.7" text-anchor="end" font-weight="normal" fill="#222222" textLength="4.02" lengthAdjust="spacingAndGlyphs">0</text>
<text x="214.71" y="335.5" font-size="6.9" fill="#222222" textLength="7.4" lengthAdjust="spacingAndGlyphs">10</text>
<text x="222.41" y="332.4" font-size="4.8" fill="#222222" textLength="5.47" lengthAdjust="spacingAndGlyphs">−5</text>
<text x="230.45" y="335.5" font-size="6.9" fill="#222222" textLength="7.4" lengthAdjust="spacingAndGlyphs">10</text>
<text x="238.15" y="332.4" font-size="4.8" fill="#222222" textLength="5.47" lengthAdjust="spacingAndGlyphs">−4</text>
<text x="246.19" y="335.5" font-size="6.9" fill="#222222" textLength="7.4" lengthAdjust="spacingAndGlyphs">10</text>
<text x="253.89" y="332.4" font-size="4.8" fill="#222222" textLength="5.47" lengthAdjust="spacingAndGlyphs">−3</text>
<text x="261.93" y="335.5" font-size="6.9" fill="#222222" textLength="7.4" lengthAdjust="spacingAndGlyphs">10</text>
<text x="269.63" y="332.4" font-size="4.8" fill="#222222" textLength="5.47" lengthAdjust="spacingAndGlyphs">−2</text>
<text x="277.67" y="335.5" font-size="6.9" fill="#222222" textLength="7.4" lengthAdjust="spacingAndGlyphs">10</text>
<text x="285.37" y="332.4" font-size="4.8" fill="#222222" textLength="5.47" lengthAdjust="spacingAndGlyphs">−1</text>
<text x="295.52" y="335.5" font-size="6.9" fill="#222222" textLength="7.4" lengthAdjust="spacingAndGlyphs">10</text>
<text x="303.22" y="332.4" font-size="4.8" fill="#222222" textLength="2.67" lengthAdjust="spacingAndGlyphs">0</text>
<text x="311.26" y="335.5" font-size="6.9" fill="#222222" textLength="7.4" lengthAdjust="spacingAndGlyphs">10</text>
<text x="318.96" y="332.4" font-size="4.8" fill="#222222" textLength="2.67" lengthAdjust="spacingAndGlyphs">1</text>
<text x="327" y="335.5" font-size="6.9" fill="#222222" textLength="7.4" lengthAdjust="spacingAndGlyphs">10</text>
<text x="334.7" y="332.4" font-size="4.8" fill="#222222" textLength="2.67" lengthAdjust="spacingAndGlyphs">2</text>
<text x="278.8" y="348.2" font-size="8.3" text-anchor="middle" fill="#333" style="stroke:#333;stroke-width:0.42px" textLength="49.6" lengthAdjust="spacingAndGlyphs">Compound [µM]</text>
<path d="M220.5 364.7 H229.1" stroke="#f7941d" stroke-width="0.95"/>
<circle cx="224.8" cy="364.7" r="1.84" fill="#f7941d"/>
<text x="232.8" y="362.8" font-size="5.85" text-anchor="start" font-weight="normal" fill="#222222">Ibrutinib</text>
<text x="232.8" y="370.4" font-size="6.2" fill="#222222">IC<tspan font-size="3.3" dy="1.5">50</tspan><tspan dy="-1.5"> = n/a</tspan></text>
<path d="M220.5 384.5 H229.1" stroke="#5a2a82" stroke-width="0.95"/>
<path d="M224.8 382.61 L226.4 384.5 L224.8 386.39 L223.2 384.5Z" fill="#5a2a82"/>
<text x="232.8" y="382.6" font-size="5.85" text-anchor="start" font-weight="normal" fill="#222222">ARQ-531</text>
<text x="232.8" y="390.2" font-size="6.2" fill="#222222">IC<tspan font-size="3.3" dy="1.5">50</tspan><tspan dy="-1.5"> = n/a</tspan></text>
<path d="M220.5 404.3 H229.1" stroke="#0b7050" stroke-width="0.95"/>
<path d="M224.8 402.31 L226.69 405.79 L222.91 405.79Z" fill="#0b7050"/>
<text x="232.8" y="402.4" font-size="5.85" text-anchor="start" font-weight="normal" fill="#222222">Thalidomide</text>
<text x="232.8" y="410" font-size="6.2" fill="#222222">IC<tspan font-size="3.3" dy="1.5">50</tspan><tspan dy="-1.5"> = n/a</tspan></text>
<path d="M289.4 364.7 H298" stroke="#41ade2" stroke-width="0.95"/>
<path d="M293.7 366.69 L295.59 363.21 L291.81 363.21Z" fill="#41ade2"/>
<text x="301.8" y="362.8" font-size="5.85" text-anchor="start" font-weight="normal" fill="#222222">Lenalidomide</text>
<text x="301.8" y="370.4" font-size="6.2" fill="#222222">IC<tspan font-size="3.3" dy="1.5">50</tspan><tspan dy="-1.5"> = n/a</tspan></text>
<path d="M289.4 384.5 H298" stroke="#c8102e" stroke-width="0.95"/>
<rect x="291.99" y="382.79" width="3.43" height="3.43" fill="#c8102e"/>
<text x="301.8" y="382.6" font-size="5.85" text-anchor="start" font-weight="normal" fill="#222222">UBX-382</text>
<text x="301.8" y="390.2" font-size="6.2" fill="#222222">IC<tspan font-size="3.3" dy="1.5">50</tspan><tspan dy="-1.5"> = n/a</tspan></text>
</g>
<g>
<text x="457.5" y="232" font-size="9.8" text-anchor="middle" font-weight="normal" fill="#222222" textLength="68.6" lengthAdjust="spacingAndGlyphs">AML : MOLM13</text>
<text x="457.2" y="244.3" font-size="7.2" text-anchor="middle" font-weight="normal" fill="#222222" textLength="30" lengthAdjust="spacingAndGlyphs">MOLM13</text>
<text transform="translate(361.2 286) rotate(-90)" font-size="8.1" text-anchor="middle" fill="#333" style="stroke:#333;stroke-width:0.42px" textLength="61.4" lengthAdjust="spacingAndGlyphs">Luminescence (RLU)</text>
<path d="M399.2 250 V323.85 H514.35" fill="none" stroke="#2b2b2b" stroke-width="1.3"/>
<path d="M395.6 253.1 H399.2 M395.6 270.6 H399.2 M395.6 288.2 H399.2 M395.6 305.9 H399.2 M395.6 323.85 H399.2 M399.2 323.85 V327.45 M415.25 323.85 V327.45 M431.3 323.85 V327.45 M447.35 323.85 V327.45 M463.4 323.85 V327.45 M479.45 323.85 V327.45 M495.5 323.85 V327.45 M511.55 323.85 V327.45 " stroke="#2b2b2b" stroke-width="1.1" fill="none"/>
<path d="M415.1 270.4 L416.1 270.4 L417.1 270.4 L418.1 270.4 L419.1 270.4 L420.1 270.4 L421.1 270.4 L422.1 270.4 L423.1 270.4 L424.1 270.4 L425.1 270.4 L426.1 270.4 L427.1 270.4 L428.1 270.4 L429.1 270.41 L430.1 270.41 L431.1 270.41 L432.1 270.41 L433.1 270.42 L434.1 270.42 L435.1 270.43 L436.1 270.44 L437.1 270.46 L438.1 270.47 L439.1 270.5 L440.1 270.53 L441.1 270.57 L442.1 270.63 L443.1 270.7 L444.1 270.79 L445.1 270.9 L446.1 271.04 L447.1 271.21 L448.1 271.41 L449.1 271.64 L450.1 271.9 L451.1 272.19 L452.1 272.48 L453.1 272.77 L454.1 273.05 L455.1 273.31 L456.1 273.53 L457.1 273.73 L458.1 273.89 L459.1 274.03 L460.1 274.13 L461.1 274.22 L462.1 274.29 L463.1 274.34 L464.1 274.38 L465.1 274.41 L466.1 274.43 L467.1 274.45 L468.1 274.46 L469.1 274.47 L470.1 274.48 L471.1 274.48 L472.1 274.49 L473.1 274.49 L474.1 274.49 L475.1 274.49 L476.1 274.5 L477.1 274.5 L478.1 274.5 L479.1 274.5 L480.1 274.5 L481.1 274.5 L482.1 274.5 L483.1 274.5 L484.1 274.5 L485.1 274.5 L486.1 274.5 L487.1 274.5 L488.1 274.5 L489.1 274.5 L490.1 274.5 L491.1 274.5 L491.2 274.5" fill="none" stroke="#41ade2" stroke-width="1.05" stroke-linejoin="round"/>
<path d="M415.1 268.9 L415.6 268.9 L416.1 268.9 L416.6 268.9 L417.1 268.9 L417.6 268.9 L418.1 268.9 L418.6 268.9 L419.1 268.9 L419.6 268.9 L420.1 268.9 L420.6 268.9 L421.1 268.9 L421.6 268.9 L422.1 268.9 L422.6 268.9 L423.1 268.9 L423.6 268.9 L424.1 268.9 L424.6 268.9 L425.1 268.9 L425.6 268.9 L426.1 268.9 L426.6 268.9 L427.1 268.9 L427.6 268.9 L428.1 268.9 L428.6 268.9 L429.1 268.9 L429.6 268.9 L430.1 268.9 L430.6 268.9 L431.1 268.9 L431.6 268.9 L432.1 268.9 L432.6 268.9 L433.1 268.9 L433.6 268.9 L434.1 268.9 L434.6 268.9 L435.1 268.9 L435.6 268.9 L436.1 268.9 L436.6 268.9 L437.1 268.9 L437.6 268.9 L438.1 268.9 L438.6 268.9 L439.1 268.9 L439.6 268.9 L440.1 268.9 L440.6 268.9 L441.1 268.9 L441.6 268.9 L442.1 268.9 L442.6 268.9 L443.1 268.9 L443.6 268.9 L444.1 268.9 L444.6 268.9 L445.1 268.9 L445.6 268.9 L446.1 268.9 L446.6 268.9 L447.1 268.9 L447.6 268.9 L448.1 268.9 L448.6 268.9 L449.1 268.9 L449.6 268.9 L450.1 268.9 L450.6 268.9 L451.1 268.9 L451.6 268.9 L452.1 268.9 L452.6 268.9 L453.1 268.9 L453.6 268.9 L454.1 268.9 L454.6 268.9 L455.1 268.9 L455.6 268.9 L456.1 268.9 L456.6 268.9 L457.1 268.9 L457.6 268.9 L458.1 268.9 L458.6 268.9 L459.1 268.9 L459.6 268.9 L460.1 268.9 L460.6 268.9 L461.1 268.9 L461.6 268.9 L462.1 268.9 L462.6 268.9 L463.1 268.9 L463.6 268.9 L464.1 268.9 L464.6 268.9 L465.1 268.9 L465.6 268.9 L466.1 268.9 L466.6 268.9 L467.1 268.9 L467.6 268.9 L468.1 268.9 L468.6 268.9 L469.1 268.89 L469.6 268.89 L470.1 268.88 L470.6 268.87 L471.1 268.83 L471.6 268.78 L472.1 268.67 L472.6 268.47 L473.1 268.14 L473.6 267.61 L474.1 266.88 L474.6 266.03 L475.1 265.2 L475.6 264.55 L476.1 264.11 L476.6 263.84 L477.1 263.68 L477.6 263.6 L478.1 263.55 L478.6 263.53 L479.1 263.51 L479.6 263.51 L480.1 263.5 L480.6 263.5 L481.1 263.5 L481.6 263.5 L482.1 263.5 L482.6 263.5 L483.1 263.5 L483.6 263.5 L484.1 263.5 L484.6 263.5 L485.1 263.5 L485.6 263.5 L486.1 263.5 L486.6 263.5 L487.1 263.5 L487.6 263.5 L488.1 263.5 L488.6 263.5 L489.1 263.5 L489.6 263.5 L490.1 263.5 L490.6 263.5 L491.1 263.5 L491.2 263.5" fill="none" stroke="#0b7050" stroke-width="1.05" stroke-linejoin="round"/>
<path d="M415.1 271.6 L416.1 271.6 L417.1 271.6 L418.1 271.6 L419.1 271.6 L420.1 271.6 L421.1 271.6 L422.1 271.6 L423.1 271.6 L424.1 271.6 L425.1 271.6 L426.1 271.6 L427.1 271.6 L428.1 271.6 L429.1 271.6 L430.1 271.6 L431.1 271.6 L432.1 271.6 L433.1 271.6 L434.1 271.6 L435.1 271.6 L436.1 271.6 L437.1 271.61 L438.1 271.61 L439.1 271.61 L440.1 271.61 L441.1 271.62 L442.1 271.62 L443.1 271.63 L444.1 271.64 L445.1 271.65 L446.1 271.66 L447.1 271.68 L448.1 271.71 L449.1 271.74 L450.1 271.78 L451.1 271.84 L452.1 271.92 L453.1 272.02 L454.1 272.14 L455.1 272.31 L456.1 272.53 L457.1 272.82 L458.1 273.19 L459.1 273.67 L460.1 274.28 L461.1 275.06 L462.1 276.06 L463.1 277.3 L464.1 278.84 L465.1 280.71 L466.1 282.95 L467.1 285.55 L468.1 288.51 L469.1 291.76 L470.1 295.22 L471.1 298.77 L472.1 302.28 L473.1 305.62 L474.1 308.71 L475.1 311.46 L476.1 313.84 L477.1 315.85 L478.1 317.52 L479.1 318.88 L480.1 319.97 L481.1 320.83 L482.1 321.51 L483.1 322.04 L484.1 322.45 L485.1 322.76 L486.1 323.01 L487.1 323.19 L488.1 323.34 L489.1 323.45 L490.1 323.53 L491.1 323.59 L491.2 323.6" fill="none" stroke="#f7941d" stroke-width="1.05" stroke-linejoin="round"/>
<path d="M415.1 268.4 L416.1 268.4 L417.1 268.4 L418.1 268.4 L419.1 268.4 L420.1 268.4 L421.1 268.4 L422.1 268.4 L423.1 268.4 L424.1 268.4 L425.1 268.4 L426.1 268.4 L427.1 268.4 L428.1 268.4 L429.1 268.4 L430.1 268.4 L431.1 268.4 L432.1 268.4 L433.1 268.4 L434.1 268.4 L435.1 268.41 L436.1 268.41 L437.1 268.41 L438.1 268.41 L439.1 268.42 L440.1 268.42 L441.1 268.43 L442.1 268.44 L443.1 268.45 L444.1 268.47 L445.1 268.49 L446.1 268.51 L447.1 268.55 L448.1 268.6 L449.1 268.66 L450.1 268.74 L451.1 268.84 L452.1 268.98 L453.1 269.16 L454.1 269.39 L455.1 269.69 L456.1 270.09 L457.1 270.59 L458.1 271.24 L459.1 272.08 L460.1 273.13 L461.1 274.45 L462.1 276.08 L463.1 278.07 L464.1 280.44 L465.1 283.21 L466.1 286.34 L467.1 289.79 L468.1 293.47 L469.1 297.23 L470.1 300.96 L471.1 304.51 L472.1 307.78 L473.1 310.7 L474.1 313.23 L475.1 315.37 L476.1 317.14 L477.1 318.58 L478.1 319.73 L479.1 320.65 L480.1 321.37 L481.1 321.93 L482.1 322.36 L483.1 322.7 L484.1 322.96 L485.1 323.16 L486.1 323.31 L487.1 323.42 L488.1 323.51 L489.1 323.58 L490.1 323.63 L491.1 323.67 L491.2 323.68" fill="none" stroke="#5a2a82" stroke-width="1.05" stroke-linejoin="round"/>
<path d="M415.1 262.2 L416.8 262.48 L419.21 262.86 L422.04 263.31 L425 263.81 L427.82 264.31 L430.2 264.8 L432.17 265.26 L433.96 265.71 L435.61 266.17 L437.14 266.66 L438.59 267.2 L440 267.8 L441.35 268.46 L442.61 269.17 L443.8 269.93 L444.92 270.74 L445.98 271.59 L447 272.5 L447.96 273.46 L448.85 274.48 L449.69 275.54 L450.48 276.66 L451.25 277.81 L452 279 L452.72 280.23 L453.41 281.5 L454.06 282.81 L454.7 284.17 L455.34 285.56 L456 287 L456.67 288.51 L457.33 290.09 L458 291.72 L458.67 293.35 L459.33 294.96 L460 296.5 L460.67 297.99 L461.33 299.47 L462 300.92 L462.67 302.33 L463.33 303.69 L464 305 L464.67 306.25 L465.33 307.46 L466 308.62 L466.67 309.73 L467.33 310.79 L468 311.8 L468.67 312.75 L469.33 313.66 L470 314.51 L470.67 315.31 L471.33 316.07 L472 316.8 L472.64 317.48 L473.26 318.12 L473.88 318.71 L474.52 319.27 L475.22 319.8 L476 320.3 L476.85 320.78 L477.73 321.23 L478.68 321.66 L479.69 322.04 L480.79 322.39 L482 322.7 L483.45 322.96 L485.17 323.17 L486.98 323.35 L488.7 323.49 L490.16 323.61 L491.2 323.7" fill="none" stroke="#c8102e" stroke-width="1.05" stroke-linejoin="round"/>
<path d="M415.1 272.55 L416.95 269.14 L413.25 269.14Z" fill="#41ade2"/>
<path d="M430.2 272.75 L432.05 269.34 L428.35 269.34Z" fill="#41ade2"/>
<path d="M445.4 272.95 L447.25 269.54 L443.55 269.54Z" fill="#41ade2"/>
<path d="M460.9 275.95 L462.75 272.54 L459.05 272.54Z" fill="#41ade2"/>
<path d="M475.7 273.95 L477.55 270.54 L473.85 270.54Z" fill="#41ade2"/>
<path d="M491.2 272 V277 M489.4 272 H493 M489.4 277 H493" stroke="#41ade2" stroke-width="0.75" fill="none"/>
<path d="M491.2 276.45 L493.05 273.04 L489.35 273.04Z" fill="#41ade2"/>
<path d="M415.1 266.55 L416.95 269.96 L413.25 269.96Z" fill="#0b7050"/>
<path d="M430.2 267.05 L432.05 270.46 L428.35 270.46Z" fill="#0b7050"/>
<path d="M445.4 266.65 L447.25 270.06 L443.55 270.06Z" fill="#0b7050"/>
<path d="M460.9 274.85 L462.75 278.26 L459.05 278.26Z" fill="#0b7050"/>
<path d="M475.7 263.95 L477.55 267.36 L473.85 267.36Z" fill="#0b7050"/>
<path d="M491.2 259.3 V267.9 M489.4 259.3 H493 M489.4 267.9 H493" stroke="#0b7050" stroke-width="0.75" fill="none"/>
<path d="M491.2 261.55 L493.05 264.96 L489.35 264.96Z" fill="#0b7050"/>
<path d="M415.1 265.35 L416.67 267.2 L415.1 269.05 L413.53 267.2Z" fill="#5a2a82"/>
<path d="M430.2 266.55 L431.77 268.4 L430.2 270.25 L428.63 268.4Z" fill="#5a2a82"/>
<path d="M445.4 261.5 V267 M443.6 261.5 H447.2 M443.6 267 H447.2" stroke="#5a2a82" stroke-width="0.75" fill="none"/>
<path d="M445.4 262.35 L446.97 264.2 L445.4 266.05 L443.83 264.2Z" fill="#5a2a82"/>
<path d="M460.9 279.6 V284.4 M459.1 279.6 H462.7 M459.1 284.4 H462.7" stroke="#5a2a82" stroke-width="0.75" fill="none"/>
<path d="M460.9 280.15 L462.47 282 L460.9 283.85 L459.33 282Z" fill="#5a2a82"/>
<path d="M475.7 310.85 L477.27 312.7 L475.7 314.55 L474.13 312.7Z" fill="#5a2a82"/>
<path d="M491.2 320.55 L492.77 322.4 L491.2 324.25 L489.63 322.4Z" fill="#5a2a82"/>
<rect x="413.42" y="260.52" width="3.36" height="3.36" fill="#c8102e"/>
<rect x="428.52" y="264.22" width="3.36" height="3.36" fill="#c8102e"/>
<rect x="443.72" y="270.32" width="3.36" height="3.36" fill="#c8102e"/>
<rect x="459.22" y="297.02" width="3.36" height="3.36" fill="#c8102e"/>
<rect x="474.02" y="318.32" width="3.36" height="3.36" fill="#c8102e"/>
<rect x="489.52" y="321.12" width="3.36" height="3.36" fill="#c8102e"/>
<circle cx="415.1" cy="270.8" r="1.8" fill="#f7941d"/>
<path d="M430.2 269.4 V274.6 M428.4 269.4 H432 M428.4 274.6 H432" stroke="#f7941d" stroke-width="0.75" fill="none"/>
<circle cx="430.2" cy="272" r="1.8" fill="#f7941d"/>
<path d="M445.4 270 V277 M443.6 270 H447.2 M443.6 277 H447.2" stroke="#f7941d" stroke-width="0.75" fill="none"/>
<circle cx="445.4" cy="273.2" r="1.8" fill="#f7941d"/>
<path d="M460.9 273.8 V278.5 M459.1 273.8 H462.7 M459.1 278.5 H462.7" stroke="#f7941d" stroke-width="0.75" fill="none"/>
<circle cx="460.9" cy="275.8" r="1.8" fill="#f7941d"/>
<circle cx="475.7" cy="310.2" r="1.8" fill="#f7941d"/>
<circle cx="491.2" cy="321.8" r="1.8" fill="#f7941d"/>
<text x="388.66" y="255.7" font-size="6.7" text-anchor="end" fill="#222222" textLength="16.3" lengthAdjust="spacingAndGlyphs">1×10</text>
<text x="388.96" y="253.2" font-size="4.7" text-anchor="start" fill="#222222" textLength="2.74" lengthAdjust="spacingAndGlyphs">7</text>
<text x="388.66" y="273.2" font-size="6.7" text-anchor="end" fill="#222222" textLength="22.33" lengthAdjust="spacingAndGlyphs">7.5×10</text>
<text x="388.96" y="270.7" font-size="4.7" text-anchor="start" fill="#222222" textLength="2.74" lengthAdjust="spacingAndGlyphs">6</text>
<text x="388.66" y="290.8" font-size="6.7" text-anchor="end" fill="#222222" textLength="16.3" lengthAdjust="spacingAndGlyphs">5×10</text>
<text x="388.96" y="288.3" font-size="4.7" text-anchor="start" fill="#222222" textLength="2.74" lengthAdjust="spacingAndGlyphs">6</text>
<text x="388.66" y="308.5" font-size="6.7" text-anchor="end" fill="#222222" textLength="22.33" lengthAdjust="spacingAndGlyphs">2.5×10</text>
<text x="388.96" y="306" font-size="4.7" text-anchor="start" fill="#222222" textLength="2.74" lengthAdjust="spacingAndGlyphs">6</text>
<text x="391.7" y="326.45" font-size="6.7" text-anchor="end" font-weight="normal" fill="#222222" textLength="4.02" lengthAdjust="spacingAndGlyphs">0</text>
<text x="391.41" y="336.5" font-size="6.9" fill="#222222" textLength="7.4" lengthAdjust="spacingAndGlyphs">10</text>
<text x="399.11" y="333.4" font-size="4.8" fill="#222222" textLength="5.47" lengthAdjust="spacingAndGlyphs">−5</text>
<text x="407.46" y="336.5" font-size="6.9" fill="#222222" textLength="7.4" lengthAdjust="spacingAndGlyphs">10</text>
<text x="415.16" y="333.4" font-size="4.8" fill="#222222" textLength="5.47" lengthAdjust="spacingAndGlyphs">−4</text>
<text x="423.51" y="336.5" font-size="6.9" fill="#222222" textLength="7.4" lengthAdjust="spacingAndGlyphs">10</text>
<text x="431.21" y="333.4" font-size="4.8" fill="#222222" textLength="5.47" lengthAdjust="spacingAndGlyphs">−3</text>
<text x="439.56" y="336.5" font-size="6.9" fill="#222222" textLength="7.4" lengthAdjust="spacingAndGlyphs">10</text>
<text x="447.26" y="333.4" font-size="4.8" fill="#222222" textLength="5.47" lengthAdjust="spacingAndGlyphs">−2</text>
<text x="455.61" y="336.5" font-size="6.9" fill="#222222" textLength="7.4" lengthAdjust="spacingAndGlyphs">10</text>
<text x="463.31" y="333.4" font-size="4.8" fill="#222222" textLength="5.47" lengthAdjust="spacingAndGlyphs">−1</text>
<text x="473.87" y="336.5" font-size="6.9" fill="#222222" textLength="7.4" lengthAdjust="spacingAndGlyphs">10</text>
<text x="481.57" y="333.4" font-size="4.8" fill="#222222" textLength="2.67" lengthAdjust="spacingAndGlyphs">0</text>
<text x="489.92" y="336.5" font-size="6.9" fill="#222222" textLength="7.4" lengthAdjust="spacingAndGlyphs">10</text>
<text x="497.62" y="333.4" font-size="4.8" fill="#222222" textLength="2.67" lengthAdjust="spacingAndGlyphs">1</text>
<text x="505.97" y="336.5" font-size="6.9" fill="#222222" textLength="7.4" lengthAdjust="spacingAndGlyphs">10</text>
<text x="513.67" y="333.4" font-size="4.8" fill="#222222" textLength="2.67" lengthAdjust="spacingAndGlyphs">2</text>
<text x="452.7" y="349.2" font-size="8.3" text-anchor="middle" fill="#333" style="stroke:#333;stroke-width:0.42px" textLength="49.6" lengthAdjust="spacingAndGlyphs">Compound [µM]</text>
<path d="M389.9 365.7 H398.5" stroke="#f7941d" stroke-width="0.95"/>
<circle cx="394.2" cy="365.7" r="1.84" fill="#f7941d"/>
<text x="402.1" y="363.8" font-size="5.85" text-anchor="start" font-weight="normal" fill="#222222">Ibrutinib</text>
<text x="402.1" y="371.4" font-size="6.2" fill="#222222">IC<tspan font-size="3.3" dy="1.5">50</tspan><tspan dy="-1.5"> = 0.448 µM</tspan></text>
<path d="M389.9 385.5 H398.5" stroke="#5a2a82" stroke-width="0.95"/>
<path d="M394.2 383.61 L395.8 385.5 L394.2 387.39 L392.6 385.5Z" fill="#5a2a82"/>
<text x="402.1" y="383.6" font-size="5.85" text-anchor="start" font-weight="normal" fill="#222222">ARQ-531</text>
<text x="402.1" y="391.2" font-size="6.2" fill="#222222">IC<tspan font-size="3.3" dy="1.5">50</tspan><tspan dy="-1.5"> = 0.286 µM</tspan></text>
<path d="M389.9 405.3 H398.5" stroke="#0b7050" stroke-width="0.95"/>
<path d="M394.2 403.31 L396.09 406.79 L392.31 406.79Z" fill="#0b7050"/>
<text x="402.1" y="403.4" font-size="5.85" text-anchor="start" font-weight="normal" fill="#222222">Thalidomide</text>
<text x="402.1" y="411" font-size="6.2" fill="#222222">IC<tspan font-size="3.3" dy="1.5">50</tspan><tspan dy="-1.5"> = n/a</tspan></text>
<path d="M459.7 365.7 H468.3" stroke="#41ade2" stroke-width="0.95"/>
<path d="M464 367.69 L465.89 364.21 L462.11 364.21Z" fill="#41ade2"/>
<text x="471" y="363.8" font-size="5.85" text-anchor="start" font-weight="normal" fill="#222222">Lenalidomide</text>
<text x="471" y="371.4" font-size="6.2" fill="#222222">IC<tspan font-size="3.3" dy="1.5">50</tspan><tspan dy="-1.5"> = n/a</tspan></text>
<path d="M459.7 385.5 H468.3" stroke="#c8102e" stroke-width="0.95"/>
<rect x="462.29" y="383.79" width="3.43" height="3.43" fill="#c8102e"/>
<text x="471" y="383.6" font-size="5.85" text-anchor="start" font-weight="normal" fill="#222222">UBX-382</text>
<text x="471" y="391.2" font-size="6.2" fill="#222222">IC<tspan font-size="3.3" dy="1.5">50</tspan><tspan dy="-1.5"> = 0.062 µM</tspan></text>
</g>
<text x="25.8" y="537.5" font-size="7.3" text-anchor="end" font-weight="normal" fill="#1c1c1c">BTK</text>
<text x="25.8" y="556.59" font-size="7.3" text-anchor="end" font-weight="normal" fill="#1c1c1c">Ikaros</text>
<text x="25.8" y="575.68" font-size="7.3" text-anchor="end" font-weight="normal" fill="#1c1c1c">Helios</text>
<text x="25.8" y="594.77" font-size="7.3" text-anchor="end" font-weight="normal" fill="#1c1c1c">Aiolos</text>
<text x="25.8" y="613.86" font-size="7.3" text-anchor="end" font-weight="normal" fill="#1c1c1c">GSPT1</text>
<text x="25.8" y="632.95" font-size="7.3" text-anchor="end" font-weight="normal" fill="#1c1c1c">CK1-α</text>
<text x="25.8" y="652.04" font-size="7.3" text-anchor="end" font-weight="normal" fill="#1c1c1c">CRBN</text>
<text x="25.8" y="671.13" font-size="7.3" text-anchor="end" font-weight="normal" fill="#1c1c1c">GAPDH</text>
<text x="71.25" y="456" font-size="9.8" text-anchor="middle" font-weight="normal" fill="#222222">U2932</text>
<text transform="translate(41 522.2) rotate(-90)" font-size="6.8" fill="#222222" textLength="20.8" lengthAdjust="spacingAndGlyphs">DMSO</text>
<text transform="translate(52.9 522.2) rotate(-90)" font-size="6.8" fill="#222222" textLength="12.8" lengthAdjust="spacingAndGlyphs">24 h</text>
<text transform="translate(64 522.2) rotate(-90)" font-size="6.8" fill="#222222" textLength="12.8" lengthAdjust="spacingAndGlyphs">72 h</text>
<text transform="translate(78 522.2) rotate(-90)" font-size="6.8" fill="#222222" textLength="12.8" lengthAdjust="spacingAndGlyphs">24 h</text>
<text transform="translate(90.2 522.2) rotate(-90)" font-size="6.8" fill="#222222" textLength="12.8" lengthAdjust="spacingAndGlyphs">72 h</text>
<text transform="translate(103 522.2) rotate(-90)" font-size="6.8" fill="#222222" textLength="37.8" lengthAdjust="spacingAndGlyphs">DMSO 72 h</text>
<text transform="translate(57.7 501.6) rotate(-90)" font-size="6.9" fill="#222222" textLength="28.5" lengthAdjust="spacingAndGlyphs">UBX-382</text>
<text transform="translate(83.2 501.6) rotate(-90)" font-size="6.9" fill="#222222" textLength="36.3" lengthAdjust="spacingAndGlyphs">Thalidomide</text>
<path d="M45.7 505.5 H64.4 M71.5 505.5 H90.4" stroke="#2b2b2b" stroke-width="1.0"/>
<text x="151.9" y="456" font-size="9.8" text-anchor="middle" font-weight="normal" fill="#222222">TMD-8</text>
<text transform="translate(122.9 522.2) rotate(-90)" font-size="6.8" fill="#222222" textLength="20.8" lengthAdjust="spacingAndGlyphs">DMSO</text>
<text transform="translate(134.8 522.2) rotate(-90)" font-size="6.8" fill="#222222" textLength="12.8" lengthAdjust="spacingAndGlyphs">24 h</text>
<text transform="translate(145.9 522.2) rotate(-90)" font-size="6.8" fill="#222222" textLength="12.8" lengthAdjust="spacingAndGlyphs">72 h</text>
<text transform="translate(159.9 522.2) rotate(-90)" font-size="6.8" fill="#222222" textLength="12.8" lengthAdjust="spacingAndGlyphs">24 h</text>
<text transform="translate(172.1 522.2) rotate(-90)" font-size="6.8" fill="#222222" textLength="12.8" lengthAdjust="spacingAndGlyphs">72 h</text>
<text transform="translate(184.9 522.2) rotate(-90)" font-size="6.8" fill="#222222" textLength="37.8" lengthAdjust="spacingAndGlyphs">DMSO 72 h</text>
<text transform="translate(139.6 501.6) rotate(-90)" font-size="6.9" fill="#222222" textLength="28.5" lengthAdjust="spacingAndGlyphs">UBX-382</text>
<text transform="translate(165.1 501.6) rotate(-90)" font-size="6.9" fill="#222222" textLength="36.3" lengthAdjust="spacingAndGlyphs">Thalidomide</text>
<path d="M127.6 505.5 H146.3 M153.4 505.5 H172.3" stroke="#2b2b2b" stroke-width="1.0"/>
<text x="230.3" y="456" font-size="9.8" text-anchor="middle" font-weight="normal" fill="#222222">DOHH2</text>
<text transform="translate(205 522.2) rotate(-90)" font-size="6.8" fill="#222222" textLength="20.8" lengthAdjust="spacingAndGlyphs">DMSO</text>
<text transform="translate(216.9 522.2) rotate(-90)" font-size="6.8" fill="#222222" textLength="12.8" lengthAdjust="spacingAndGlyphs">24 h</text>
<text transform="translate(228 522.2) rotate(-90)" font-size="6.8" fill="#222222" textLength="12.8" lengthAdjust="spacingAndGlyphs">72 h</text>
<text transform="translate(242 522.2) rotate(-90)" font-size="6.8" fill="#222222" textLength="12.8" lengthAdjust="spacingAndGlyphs">24 h</text>
<text transform="translate(254.2 522.2) rotate(-90)" font-size="6.8" fill="#222222" textLength="12.8" lengthAdjust="spacingAndGlyphs">72 h</text>
<text transform="translate(267 522.2) rotate(-90)" font-size="6.8" fill="#222222" textLength="37.8" lengthAdjust="spacingAndGlyphs">DMSO 72 h</text>
<text transform="translate(221.7 501.6) rotate(-90)" font-size="6.9" fill="#222222" textLength="28.5" lengthAdjust="spacingAndGlyphs">UBX-382</text>
<text transform="translate(247.2 501.6) rotate(-90)" font-size="6.9" fill="#222222" textLength="36.3" lengthAdjust="spacingAndGlyphs">Thalidomide</text>
<path d="M209.7 505.5 H228.4 M235.5 505.5 H254.4" stroke="#2b2b2b" stroke-width="1.0"/>
<text x="314.5" y="456" font-size="9.8" text-anchor="middle" font-weight="normal" fill="#222222">MINO</text>
<text transform="translate(287.5 522.2) rotate(-90)" font-size="6.8" fill="#222222" textLength="20.8" lengthAdjust="spacingAndGlyphs">DMSO</text>
<text transform="translate(299.4 522.2) rotate(-90)" font-size="6.8" fill="#222222" textLength="12.8" lengthAdjust="spacingAndGlyphs">24 h</text>
<text transform="translate(310.5 522.2) rotate(-90)" font-size="6.8" fill="#222222" textLength="12.8" lengthAdjust="spacingAndGlyphs">72 h</text>
<text transform="translate(324.5 522.2) rotate(-90)" font-size="6.8" fill="#222222" textLength="12.8" lengthAdjust="spacingAndGlyphs">24 h</text>
<text transform="translate(336.7 522.2) rotate(-90)" font-size="6.8" fill="#222222" textLength="12.8" lengthAdjust="spacingAndGlyphs">72 h</text>
<text transform="translate(349.5 522.2) rotate(-90)" font-size="6.8" fill="#222222" textLength="37.8" lengthAdjust="spacingAndGlyphs">DMSO 72 h</text>
<text transform="translate(304.2 501.6) rotate(-90)" font-size="6.9" fill="#222222" textLength="28.5" lengthAdjust="spacingAndGlyphs">UBX-382</text>
<text transform="translate(329.7 501.6) rotate(-90)" font-size="6.9" fill="#222222" textLength="36.3" lengthAdjust="spacingAndGlyphs">Thalidomide</text>
<path d="M292.2 505.5 H310.9 M318 505.5 H336.9" stroke="#2b2b2b" stroke-width="1.0"/>
<text x="397.9" y="456" font-size="9.8" text-anchor="middle" font-weight="normal" fill="#222222">K562</text>
<text transform="translate(369.7 522.2) rotate(-90)" font-size="6.8" fill="#222222" textLength="20.8" lengthAdjust="spacingAndGlyphs">DMSO</text>
<text transform="translate(381.6 522.2) rotate(-90)" font-size="6.8" fill="#222222" textLength="12.8" lengthAdjust="spacingAndGlyphs">24 h</text>
<text transform="translate(392.7 522.2) rotate(-90)" font-size="6.8" fill="#222222" textLength="12.8" lengthAdjust="spacingAndGlyphs">72 h</text>
<text transform="translate(406.7 522.2) rotate(-90)" font-size="6.8" fill="#222222" textLength="12.8" lengthAdjust="spacingAndGlyphs">24 h</text>
<text transform="translate(418.9 522.2) rotate(-90)" font-size="6.8" fill="#222222" textLength="12.8" lengthAdjust="spacingAndGlyphs">72 h</text>
<text transform="translate(431.7 522.2) rotate(-90)" font-size="6.8" fill="#222222" textLength="37.8" lengthAdjust="spacingAndGlyphs">DMSO 72 h</text>
<text transform="translate(386.4 501.6) rotate(-90)" font-size="6.9" fill="#222222" textLength="28.5" lengthAdjust="spacingAndGlyphs">UBX-382</text>
<text transform="translate(411.9 498.1) rotate(-90)" font-size="6.9" fill="#222222" textLength="36.3" lengthAdjust="spacingAndGlyphs">Thalidomide</text>
<path d="M374.4 505.5 H393.1 M400.2 504.4 H419.1" stroke="#2b2b2b" stroke-width="1.0"/>
<text x="479.6" y="456" font-size="9.8" text-anchor="middle" font-weight="normal" fill="#222222">WSU-WM</text>
<text transform="translate(451.8 522.2) rotate(-90)" font-size="6.8" fill="#222222" textLength="20.8" lengthAdjust="spacingAndGlyphs">DMSO</text>
<text transform="translate(463.7 522.2) rotate(-90)" font-size="6.8" fill="#222222" textLength="12.8" lengthAdjust="spacingAndGlyphs">24 h</text>
<text transform="translate(474.8 522.2) rotate(-90)" font-size="6.8" fill="#222222" textLength="12.8" lengthAdjust="spacingAndGlyphs">72 h</text>
<text transform="translate(488.8 522.2) rotate(-90)" font-size="6.8" fill="#222222" textLength="12.8" lengthAdjust="spacingAndGlyphs">24 h</text>
<text transform="translate(501 522.2) rotate(-90)" font-size="6.8" fill="#222222" textLength="12.8" lengthAdjust="spacingAndGlyphs">72 h</text>
<text transform="translate(513.8 522.2) rotate(-90)" font-size="6.8" fill="#222222" textLength="37.8" lengthAdjust="spacingAndGlyphs">DMSO 72 h</text>
<text transform="translate(468.5 501.6) rotate(-90)" font-size="6.9" fill="#222222" textLength="28.5" lengthAdjust="spacingAndGlyphs">UBX-382</text>
<text transform="translate(494 501.6) rotate(-90)" font-size="6.9" fill="#222222" textLength="36.3" lengthAdjust="spacingAndGlyphs">Thalidomide</text>
<path d="M456.5 505.5 H475.2 M482.3 505.5 H501.2" stroke="#2b2b2b" stroke-width="1.0"/>
<rect x="29.5" y="526.7" width="79" height="16.1" fill="#f3f3f5" stroke="#2c2c2c" stroke-width="1.3"/>
<g filter="url(#b1)">
<rect x="31.15" y="534" width="11.1" height="2.6" rx="1.8" ry="1.3" fill="#0a0a0a" opacity="1"/>
<rect x="70.55" y="534.09" width="11.1" height="2.42" rx="1.8" ry="1.21" fill="#0a0a0a" opacity="1"/>
<rect x="83.35" y="533.89" width="11.1" height="2.42" rx="1.8" ry="1.21" fill="#0a0a0a" opacity="1"/>
<rect x="96.35" y="533.79" width="11.1" height="2.42" rx="1.8" ry="1.21" fill="#0a0a0a" opacity="1"/>
</g>
<rect x="29.5" y="545.79" width="79" height="16.1" fill="#f3f3f5" stroke="#2c2c2c" stroke-width="1.3"/>
<g filter="url(#b1)">
<rect x="31.15" y="551.35" width="11.1" height="1.49" rx="1.8" ry="0.74" fill="#0a0a0a" opacity="0.95"/>
<rect x="44.35" y="551.44" width="11.1" height="1.3" rx="1.8" ry="0.65" fill="#0a0a0a" opacity="0.85"/>
<rect x="57.15" y="551.35" width="11.1" height="1.49" rx="1.8" ry="0.74" fill="#0a0a0a" opacity="0.9"/>
<rect x="70.55" y="551.35" width="11.1" height="1.49" rx="1.8" ry="0.74" fill="#0a0a0a" opacity="0.95"/>
<rect x="83.35" y="551.35" width="11.1" height="1.49" rx="1.8" ry="0.74" fill="#0a0a0a" opacity="0.95"/>
<rect x="96.35" y="551.35" width="11.1" height="1.49" rx="1.8" ry="0.74" fill="#0a0a0a" opacity="0.95"/>
<rect x="31.15" y="555.95" width="11.1" height="1.49" rx="1.8" ry="0.74" fill="#0a0a0a" opacity="0.95"/>
<rect x="44.35" y="555.99" width="11.1" height="1.4" rx="1.8" ry="0.7" fill="#0a0a0a" opacity="0.9"/>
<rect x="57.15" y="555.9" width="11.1" height="1.58" rx="1.8" ry="0.79" fill="#0a0a0a" opacity="0.95"/>
<rect x="70.55" y="555.95" width="11.1" height="1.49" rx="1.8" ry="0.74" fill="#0a0a0a" opacity="0.95"/>
<rect x="83.35" y="555.99" width="11.1" height="1.4" rx="1.8" ry="0.7" fill="#0a0a0a" opacity="0.95"/>
<rect x="96.35" y="555.9" width="11.1" height="1.58" rx="1.8" ry="0.79" fill="#0a0a0a" opacity="0.95"/>
</g>
<rect x="29.5" y="564.88" width="79" height="16.1" fill="#f3f3f5" stroke="#2c2c2c" stroke-width="1.3"/>
<g filter="url(#b1)">
<rect x="30.65" y="571.38" width="12.1" height="2.79" rx="1.8" ry="1.4" fill="#0a0a0a" opacity="1"/>
<rect x="43.85" y="571.59" width="12.1" height="2.79" rx="1.8" ry="1.4" fill="#0a0a0a" opacity="1"/>
<rect x="56.65" y="571.59" width="12.1" height="2.79" rx="1.8" ry="1.4" fill="#0a0a0a" opacity="1"/>
<rect x="70.05" y="571.38" width="12.1" height="2.79" rx="1.8" ry="1.4" fill="#0a0a0a" opacity="1"/>
<rect x="82.85" y="571.38" width="12.1" height="2.79" rx="1.8" ry="1.4" fill="#0a0a0a" opacity="1"/>
<rect x="95.85" y="571.09" width="12.1" height="2.79" rx="1.8" ry="1.4" fill="#0a0a0a" opacity="1"/>
</g>
<rect x="29.5" y="583.97" width="79" height="16.1" fill="#f3f3f5" stroke="#2c2c2c" stroke-width="1.3"/>
<g filter="url(#b1)">
<rect x="31.25" y="590.77" width="10.9" height="2.6" rx="1.8" ry="1.3" fill="#0a0a0a" opacity="1"/>
<rect x="44.45" y="591.35" width="10.9" height="2.05" rx="1.8" ry="1.02" fill="#0a0a0a" opacity="0.95"/>
<rect x="57.25" y="591.35" width="10.9" height="2.05" rx="1.8" ry="1.02" fill="#0a0a0a" opacity="0.95"/>
<rect x="70.65" y="590.77" width="10.9" height="2.6" rx="1.8" ry="1.3" fill="#0a0a0a" opacity="1"/>
<rect x="83.45" y="590.86" width="10.9" height="2.42" rx="1.8" ry="1.21" fill="#0a0a0a" opacity="1"/>
<rect x="96.45" y="590.86" width="10.9" height="2.42" rx="1.8" ry="1.21" fill="#0a0a0a" opacity="1"/>
</g>
<rect x="29.5" y="603.06" width="79" height="16.1" fill="#f3f3f5" stroke="#2c2c2c" stroke-width="1.3"/>
<g filter="url(#b1)">
<rect x="31.35" y="610.07" width="10.7" height="2.79" rx="1.8" ry="1.4" fill="#0a0a0a" opacity="1"/>
<rect x="44.55" y="610.45" width="10.7" height="2.42" rx="1.8" ry="1.21" fill="#0a0a0a" opacity="0.95"/>
<rect x="57.35" y="610.73" width="10.7" height="1.86" rx="1.8" ry="0.93" fill="#0a0a0a" opacity="0.9"/>
<rect x="70.75" y="609.77" width="10.7" height="2.79" rx="1.8" ry="1.4" fill="#0a0a0a" opacity="1"/>
<rect x="83.55" y="609.75" width="10.7" height="2.42" rx="1.8" ry="1.21" fill="#0a0a0a" opacity="1"/>
<rect x="96.55" y="609.56" width="10.7" height="2.6" rx="1.8" ry="1.3" fill="#0a0a0a" opacity="1"/>
</g>
<rect x="29.5" y="622.15" width="79" height="16.1" fill="#f3f3f5" stroke="#2c2c2c" stroke-width="1.3"/>
<g filter="url(#b1)">
<rect x="31.25" y="628.66" width="10.9" height="2.79" rx="1.8" ry="1.4" fill="#0a0a0a" opacity="1"/>
<rect x="44.45" y="628.66" width="10.9" height="2.79" rx="1.8" ry="1.4" fill="#0a0a0a" opacity="1"/>
<rect x="57.25" y="628.56" width="10.9" height="2.98" rx="1.8" ry="1.49" fill="#0a0a0a" opacity="1"/>
<rect x="70.65" y="628.66" width="10.9" height="2.79" rx="1.8" ry="1.4" fill="#0a0a0a" opacity="1"/>
<rect x="83.45" y="628.66" width="10.9" height="2.79" rx="1.8" ry="1.4" fill="#0a0a0a" opacity="1"/>
<rect x="96.45" y="628.66" width="10.9" height="2.79" rx="1.8" ry="1.4" fill="#0a0a0a" opacity="1"/>
</g>
<rect x="29.5" y="641.24" width="79" height="16.1" fill="#f3f3f5" stroke="#2c2c2c" stroke-width="1.3"/>
<g filter="url(#b1)">
<rect x="31.35" y="647.52" width="10.7" height="2.23" rx="1.8" ry="1.12" fill="#0a0a0a" opacity="1"/>
<rect x="44.55" y="647.73" width="10.7" height="2.42" rx="1.8" ry="1.21" fill="#0a0a0a" opacity="1"/>
<rect x="57.35" y="647.72" width="10.7" height="2.23" rx="1.8" ry="1.12" fill="#0a0a0a" opacity="1"/>
<rect x="70.75" y="647.52" width="10.7" height="2.23" rx="1.8" ry="1.12" fill="#0a0a0a" opacity="1"/>
<rect x="83.55" y="647.52" width="10.7" height="2.23" rx="1.8" ry="1.12" fill="#0a0a0a" opacity="1"/>
<rect x="96.55" y="647.32" width="10.7" height="2.23" rx="1.8" ry="1.12" fill="#0a0a0a" opacity="1"/>
</g>
<rect x="29.5" y="660.33" width="79" height="16.1" fill="#f3f3f5" stroke="#2c2c2c" stroke-width="1.3"/>
<g filter="url(#b1)">
<rect x="30.65" y="666.93" width="12.1" height="2.6" rx="1.8" ry="1.3" fill="#0a0a0a" opacity="1"/>
<rect x="43.85" y="666.93" width="12.1" height="2.6" rx="1.8" ry="1.3" fill="#0a0a0a" opacity="1"/>
<rect x="56.65" y="666.93" width="12.1" height="2.6" rx="1.8" ry="1.3" fill="#0a0a0a" opacity="1"/>
<rect x="70.05" y="666.93" width="12.1" height="2.6" rx="1.8" ry="1.3" fill="#0a0a0a" opacity="1"/>
<rect x="82.85" y="666.93" width="12.1" height="2.6" rx="1.8" ry="1.3" fill="#0a0a0a" opacity="1"/>
<rect x="95.85" y="666.63" width="12.1" height="2.6" rx="1.8" ry="1.3" fill="#0a0a0a" opacity="1"/>
</g>
<rect x="111.6" y="526.7" width="79" height="16.1" fill="#f3f3f5" stroke="#2c2c2c" stroke-width="1.3"/>
<g filter="url(#b1)">
<rect x="112.25" y="533.21" width="11.7" height="2.98" rx="1.8" ry="1.49" fill="#0a0a0a" opacity="1"/>
<rect x="150.95" y="533.92" width="11.7" height="3.16" rx="1.8" ry="1.58" fill="#0a0a0a" opacity="1"/>
<rect x="163.95" y="533.82" width="11.7" height="3.16" rx="1.8" ry="1.58" fill="#0a0a0a" opacity="1"/>
<rect x="177.35" y="533.62" width="11.7" height="3.16" rx="1.8" ry="1.58" fill="#0a0a0a" opacity="1"/>
</g>
<rect x="111.6" y="545.79" width="79" height="16.1" fill="#f3f3f5" stroke="#2c2c2c" stroke-width="1.3"/>
<g filter="url(#b1)">
<rect x="112.45" y="550.67" width="11.3" height="2.05" rx="1.8" ry="1.02" fill="#0a0a0a" opacity="0.9"/>
<rect x="125.45" y="551.09" width="11.3" height="1.21" rx="1.8" ry="0.6" fill="#0a0a0a" opacity="0.45"/>
<rect x="138.25" y="551.13" width="11.3" height="1.12" rx="1.8" ry="0.56" fill="#0a0a0a" opacity="0.1"/>
<rect x="151.15" y="550.97" width="11.3" height="2.05" rx="1.8" ry="1.02" fill="#0a0a0a" opacity="0.9"/>
<rect x="164.15" y="550.95" width="11.3" height="1.49" rx="1.8" ry="0.74" fill="#0a0a0a" opacity="0.65"/>
<rect x="177.55" y="550.95" width="11.3" height="1.49" rx="1.8" ry="0.74" fill="#0a0a0a" opacity="0.65"/>
<rect x="112.45" y="555.47" width="11.3" height="2.23" rx="1.8" ry="1.12" fill="#0a0a0a" opacity="1"/>
<rect x="125.45" y="556.05" width="11.3" height="1.67" rx="1.8" ry="0.84" fill="#0a0a0a" opacity="0.85"/>
<rect x="138.25" y="556.45" width="11.3" height="1.49" rx="1.8" ry="0.74" fill="#0a0a0a" opacity="0.85"/>
<rect x="151.15" y="555.78" width="11.3" height="2.42" rx="1.8" ry="1.21" fill="#0a0a0a" opacity="1"/>
<rect x="164.15" y="555.96" width="11.3" height="1.86" rx="1.8" ry="0.93" fill="#0a0a0a" opacity="0.9"/>
<rect x="177.55" y="555.66" width="11.3" height="1.86" rx="1.8" ry="0.93" fill="#0a0a0a" opacity="0.9"/>
</g>
<rect x="111.6" y="564.88" width="79" height="16.1" fill="#ececec" stroke="#2c2c2c" stroke-width="1.3"/>
<g filter="url(#b1)">
<rect x="112.15" y="571.61" width="11.9" height="3.53" rx="1.8" ry="1.77" fill="#0a0a0a" opacity="1"/>
<rect x="125.15" y="572.08" width="11.9" height="2.6" rx="1.8" ry="1.3" fill="#0a0a0a" opacity="0.95"/>
<rect x="137.95" y="572.37" width="11.9" height="2.42" rx="1.8" ry="1.21" fill="#0a0a0a" opacity="0.95"/>
<rect x="150.85" y="571.63" width="11.9" height="3.91" rx="1.8" ry="1.95" fill="#0a0a0a" opacity="1"/>
<rect x="163.85" y="572.36" width="11.9" height="2.05" rx="1.8" ry="1.02" fill="#0a0a0a" opacity="0.9"/>
<rect x="177.25" y="572.45" width="11.9" height="1.86" rx="1.8" ry="0.93" fill="#0a0a0a" opacity="0.9"/>
</g>
<rect x="111.6" y="583.97" width="79" height="16.1" fill="#ececec" stroke="#2c2c2c" stroke-width="1.3"/>
<g filter="url(#b1)">
<rect x="112.35" y="590.3" width="11.5" height="3.35" rx="1.8" ry="1.67" fill="#0a0a0a" opacity="1"/>
<rect x="125.35" y="590.87" width="11.5" height="2.6" rx="1.8" ry="1.3" fill="#0a0a0a" opacity="0.95"/>
<rect x="138.15" y="591.53" width="11.5" height="1.49" rx="1.8" ry="0.74" fill="#0a0a0a" opacity="0.28"/>
<rect x="151.05" y="590.02" width="11.5" height="3.91" rx="1.8" ry="1.95" fill="#0a0a0a" opacity="1"/>
<rect x="164.05" y="590.58" width="11.5" height="2.79" rx="1.8" ry="1.4" fill="#0a0a0a" opacity="1"/>
<rect x="177.45" y="590.78" width="11.5" height="2.79" rx="1.8" ry="1.4" fill="#0a0a0a" opacity="1"/>
<rect x="113.45" y="594.24" width="9.3" height="1.86" rx="1.8" ry="0.93" fill="#0a0a0a" opacity="0.1"/>
<rect x="152.15" y="594.24" width="9.3" height="1.86" rx="1.8" ry="0.93" fill="#0a0a0a" opacity="0.1"/>
</g>
<rect x="111.6" y="603.06" width="79" height="16.1" fill="#f3f3f5" stroke="#2c2c2c" stroke-width="1.3"/>
<g filter="url(#b1)">
<rect x="112.65" y="610.09" width="10.9" height="3.35" rx="1.8" ry="1.67" fill="#0a0a0a" opacity="1"/>
<rect x="125.65" y="610.57" width="10.9" height="2.79" rx="1.8" ry="1.4" fill="#0a0a0a" opacity="0.95"/>
<rect x="138.45" y="611.26" width="10.9" height="1.4" rx="1.8" ry="0.7" fill="#0a0a0a" opacity="0.3"/>
<rect x="151.35" y="609.99" width="10.9" height="3.53" rx="1.8" ry="1.77" fill="#0a0a0a" opacity="1"/>
<rect x="164.35" y="610.55" width="10.9" height="2.42" rx="1.8" ry="1.21" fill="#0a0a0a" opacity="0.95"/>
<rect x="177.75" y="610.34" width="10.9" height="2.05" rx="1.8" ry="1.02" fill="#0a0a0a" opacity="0.9"/>
</g>
<rect x="111.6" y="622.15" width="79" height="16.1" fill="#f3f3f5" stroke="#2c2c2c" stroke-width="1.3"/>
<g filter="url(#b1)">
<rect x="112.25" y="628.36" width="11.7" height="2.79" rx="1.8" ry="1.4" fill="#0a0a0a" opacity="1"/>
<rect x="125.25" y="628.08" width="11.7" height="3.35" rx="1.8" ry="1.67" fill="#0a0a0a" opacity="1"/>
<rect x="138.05" y="628.73" width="11.7" height="2.05" rx="1.8" ry="1.02" fill="#0a0a0a" opacity="0.95"/>
<rect x="150.95" y="628.08" width="11.7" height="3.35" rx="1.8" ry="1.67" fill="#0a0a0a" opacity="1"/>
<rect x="163.95" y="628.96" width="11.7" height="1.58" rx="1.8" ry="0.79" fill="#0a0a0a" opacity="0.9"/>
<rect x="177.35" y="629.05" width="11.7" height="1.4" rx="1.8" ry="0.7" fill="#0a0a0a" opacity="0.85"/>
</g>
<rect x="111.6" y="641.24" width="79" height="16.1" fill="#f3f3f5" stroke="#2c2c2c" stroke-width="1.3"/>
<g filter="url(#b1)">
<rect x="112.25" y="647.06" width="11.7" height="3.16" rx="1.8" ry="1.58" fill="#0a0a0a" opacity="1"/>
<rect x="125.25" y="647.17" width="11.7" height="3.35" rx="1.8" ry="1.67" fill="#0a0a0a" opacity="1"/>
<rect x="138.05" y="647.17" width="11.7" height="3.35" rx="1.8" ry="1.67" fill="#0a0a0a" opacity="1"/>
<rect x="150.95" y="647.36" width="11.7" height="3.16" rx="1.8" ry="1.58" fill="#0a0a0a" opacity="1"/>
<rect x="163.95" y="646.97" width="11.7" height="3.35" rx="1.8" ry="1.67" fill="#0a0a0a" opacity="1"/>
<rect x="177.35" y="646.97" width="11.7" height="3.35" rx="1.8" ry="1.67" fill="#0a0a0a" opacity="1"/>
</g>
<rect x="111.6" y="660.33" width="79" height="16.1" fill="#f3f3f5" stroke="#2c2c2c" stroke-width="1.3"/>
<g filter="url(#b1)">
<rect x="111.85" y="666.65" width="12.5" height="3.16" rx="1.8" ry="1.58" fill="#0a0a0a" opacity="1"/>
<rect x="124.85" y="666.85" width="12.5" height="3.16" rx="1.8" ry="1.58" fill="#0a0a0a" opacity="1"/>
<rect x="137.65" y="666.85" width="12.5" height="3.16" rx="1.8" ry="1.58" fill="#0a0a0a" opacity="1"/>
<rect x="150.55" y="666.94" width="12.5" height="2.98" rx="1.8" ry="1.49" fill="#0a0a0a" opacity="1"/>
<rect x="163.55" y="666.65" width="12.5" height="3.16" rx="1.8" ry="1.58" fill="#0a0a0a" opacity="1"/>
<rect x="176.95" y="666.36" width="12.5" height="3.35" rx="1.8" ry="1.67" fill="#0a0a0a" opacity="1"/>
</g>
<rect x="193.5" y="526.7" width="79" height="16.1" fill="#ededed" stroke="#2c2c2c" stroke-width="1.3"/>
<g filter="url(#b1)">
<rect x="195.65" y="533.41" width="10.5" height="2.79" rx="1.8" ry="1.4" fill="#0a0a0a" opacity="1"/>
<rect x="234.65" y="534.09" width="10.5" height="2.42" rx="1.8" ry="1.21" fill="#0a0a0a" opacity="1"/>
<rect x="247.55" y="534.09" width="10.5" height="2.42" rx="1.8" ry="1.21" fill="#0a0a0a" opacity="1"/>
<rect x="260.25" y="534.09" width="10.5" height="2.42" rx="1.8" ry="1.21" fill="#0a0a0a" opacity="1"/>
</g>
<rect x="193.5" y="545.79" width="79" height="16.1" fill="#f7f7f7" stroke="#2c2c2c" stroke-width="1.3"/>
<g filter="url(#b1)">
<rect x="195.75" y="549.7" width="10.3" height="2.79" rx="1.8" ry="1.4" fill="#0a0a0a" opacity="1"/>
<rect x="234.75" y="550.09" width="10.3" height="2.6" rx="1.8" ry="1.3" fill="#0a0a0a" opacity="1"/>
<rect x="247.65" y="550.09" width="10.3" height="2.6" rx="1.8" ry="1.3" fill="#0a0a0a" opacity="1"/>
<rect x="260.35" y="550.09" width="10.3" height="2.6" rx="1.8" ry="1.3" fill="#0a0a0a" opacity="1"/>
<rect x="195.85" y="557.54" width="10.1" height="1.3" rx="1.8" ry="0.65" fill="#0a0a0a" opacity="0.28"/>
<rect x="234.85" y="557.45" width="10.1" height="1.49" rx="1.8" ry="0.74" fill="#0a0a0a" opacity="0.5"/>
<rect x="247.75" y="557.4" width="10.1" height="1.58" rx="1.8" ry="0.79" fill="#0a0a0a" opacity="0.6"/>
<rect x="260.45" y="557.45" width="10.1" height="1.49" rx="1.8" ry="0.74" fill="#0a0a0a" opacity="0.5"/>
</g>
<rect x="193.5" y="564.88" width="79" height="16.1" fill="#e6e6e6" stroke="#2c2c2c" stroke-width="1.3"/>
<g filter="url(#b1)">
<rect x="194.95" y="571.43" width="11.9" height="4.09" rx="1.8" ry="2.05" fill="#0a0a0a" opacity="1"/>
<rect x="207.95" y="572.09" width="11.9" height="2.79" rx="1.8" ry="1.4" fill="#0a0a0a" opacity="1"/>
<rect x="233.95" y="571.64" width="11.9" height="4.28" rx="1.8" ry="2.14" fill="#0a0a0a" opacity="1"/>
<rect x="246.85" y="571.54" width="11.9" height="4.28" rx="1.8" ry="2.14" fill="#0a0a0a" opacity="1"/>
<rect x="259.55" y="571.34" width="11.9" height="4.28" rx="1.8" ry="2.14" fill="#0a0a0a" opacity="1"/>
<rect x="196.05" y="568.74" width="9.7" height="1.49" rx="1.8" ry="0.74" fill="#0a0a0a" opacity="0.12"/>
<rect x="235.05" y="568.74" width="9.7" height="1.49" rx="1.8" ry="0.74" fill="#0a0a0a" opacity="0.1"/>
<rect x="247.95" y="568.74" width="9.7" height="1.49" rx="1.8" ry="0.74" fill="#0a0a0a" opacity="0.14"/>
<rect x="260.65" y="568.74" width="9.7" height="1.49" rx="1.8" ry="0.74" fill="#0a0a0a" opacity="0.12"/>
</g>
<rect x="193.5" y="583.97" width="79" height="16.1" fill="#f7f7f7" stroke="#2c2c2c" stroke-width="1.3"/>
<g filter="url(#b1)">
<rect x="195.75" y="590.66" width="10.3" height="2.42" rx="1.8" ry="1.21" fill="#0a0a0a" opacity="1"/>
<rect x="234.75" y="591.65" width="10.3" height="2.23" rx="1.8" ry="1.12" fill="#0a0a0a" opacity="1"/>
<rect x="247.65" y="591.65" width="10.3" height="2.23" rx="1.8" ry="1.12" fill="#0a0a0a" opacity="1"/>
<rect x="260.35" y="591.65" width="10.3" height="2.05" rx="1.8" ry="1.02" fill="#0a0a0a" opacity="1"/>
</g>
<rect x="193.5" y="603.06" width="79" height="16.1" fill="#f6f6f6" stroke="#2c2c2c" stroke-width="1.3"/>
<g filter="url(#b1)">
<rect x="195.95" y="610.86" width="9.9" height="2.6" rx="1.8" ry="1.3" fill="#0a0a0a" opacity="1"/>
<rect x="234.95" y="611.06" width="9.9" height="2.6" rx="1.8" ry="1.3" fill="#0a0a0a" opacity="1"/>
<rect x="247.85" y="610.86" width="9.9" height="2.6" rx="1.8" ry="1.3" fill="#0a0a0a" opacity="1"/>
<rect x="260.55" y="610.65" width="9.9" height="2.42" rx="1.8" ry="1.21" fill="#0a0a0a" opacity="1"/>
</g>
<rect x="193.5" y="622.15" width="79" height="16.1" fill="#ececec" stroke="#2c2c2c" stroke-width="1.3"/>
<g filter="url(#b1)">
<rect x="195.75" y="628.45" width="10.3" height="2.6" rx="1.8" ry="1.3" fill="#0a0a0a" opacity="1"/>
<rect x="234.75" y="628.65" width="10.3" height="2.6" rx="1.8" ry="1.3" fill="#0a0a0a" opacity="1"/>
<rect x="247.65" y="628.46" width="10.3" height="2.98" rx="1.8" ry="1.49" fill="#0a0a0a" opacity="1"/>
<rect x="260.35" y="628.73" width="10.3" height="2.23" rx="1.8" ry="1.12" fill="#0a0a0a" opacity="0.95"/>
</g>
<rect x="193.5" y="641.24" width="79" height="16.1" fill="#f7f7f7" stroke="#2c2c2c" stroke-width="1.3"/>
<g filter="url(#b1)">
<rect x="195.95" y="648.52" width="9.9" height="2.05" rx="1.8" ry="1.02" fill="#0a0a0a" opacity="1"/>
<rect x="234.95" y="648.7" width="9.9" height="1.67" rx="1.8" ry="0.84" fill="#0a0a0a" opacity="0.9"/>
<rect x="247.85" y="648.33" width="9.9" height="2.42" rx="1.8" ry="1.21" fill="#0a0a0a" opacity="1"/>
<rect x="260.55" y="648.42" width="9.9" height="2.23" rx="1.8" ry="1.12" fill="#0a0a0a" opacity="1"/>
</g>
<rect x="193.5" y="660.33" width="79" height="16.1" fill="#ececec" stroke="#2c2c2c" stroke-width="1.3"/>
<g filter="url(#b1)">
<rect x="194.85" y="666.77" width="12.1" height="3.72" rx="1.8" ry="1.86" fill="#0a0a0a" opacity="1"/>
<rect x="207.85" y="667.26" width="12.1" height="3.35" rx="1.8" ry="1.67" fill="#0a0a0a" opacity="1"/>
<rect x="220.65" y="668.39" width="12.1" height="1.49" rx="1.8" ry="0.74" fill="#0a0a0a" opacity="0.2"/>
<rect x="233.85" y="667.27" width="12.1" height="3.72" rx="1.8" ry="1.86" fill="#0a0a0a" opacity="1"/>
<rect x="246.75" y="667.26" width="12.1" height="3.53" rx="1.8" ry="1.77" fill="#0a0a0a" opacity="1"/>
<rect x="259.45" y="667.35" width="12.1" height="3.16" rx="1.8" ry="1.58" fill="#0a0a0a" opacity="1"/>
</g>
<rect x="275.5" y="526.7" width="79" height="16.1" fill="#f3f3f5" stroke="#2c2c2c" stroke-width="1.3"/>
<g filter="url(#b1)">
<rect x="277.55" y="533.72" width="11.3" height="3.16" rx="1.8" ry="1.58" fill="#0a0a0a" opacity="1"/>
<rect x="316.65" y="533.91" width="11.3" height="2.79" rx="1.8" ry="1.4" fill="#0a0a0a" opacity="1"/>
<rect x="329.05" y="533.51" width="11.3" height="2.79" rx="1.8" ry="1.4" fill="#0a0a0a" opacity="1"/>
<rect x="341.95" y="533.11" width="11.3" height="2.79" rx="1.8" ry="1.4" fill="#0a0a0a" opacity="1"/>
</g>
<rect x="275.5" y="545.79" width="79" height="16.1" fill="#f3f3f5" stroke="#2c2c2c" stroke-width="1.3"/>
<g filter="url(#b1)">
<rect x="277.65" y="550.47" width="11.1" height="2.23" rx="1.8" ry="1.12" fill="#0a0a0a" opacity="1"/>
<rect x="290.85" y="550.95" width="11.1" height="1.67" rx="1.8" ry="0.84" fill="#0a0a0a" opacity="0.7"/>
<rect x="303.55" y="551.15" width="11.1" height="1.67" rx="1.8" ry="0.84" fill="#0a0a0a" opacity="0.6"/>
<rect x="316.75" y="550.68" width="11.1" height="2.42" rx="1.8" ry="1.21" fill="#0a0a0a" opacity="1"/>
<rect x="329.15" y="550.38" width="11.1" height="2.42" rx="1.8" ry="1.21" fill="#0a0a0a" opacity="1"/>
<rect x="342.05" y="550.18" width="11.1" height="2.42" rx="1.8" ry="1.21" fill="#0a0a0a" opacity="1"/>
<rect x="277.65" y="557.04" width="11.1" height="1.3" rx="1.8" ry="0.65" fill="#0a0a0a" opacity="0.35"/>
<rect x="290.85" y="557.24" width="11.1" height="1.3" rx="1.8" ry="0.65" fill="#0a0a0a" opacity="0.4"/>
<rect x="303.55" y="557.34" width="11.1" height="1.3" rx="1.8" ry="0.65" fill="#0a0a0a" opacity="0.4"/>
<rect x="316.75" y="557.15" width="11.1" height="1.67" rx="1.8" ry="0.84" fill="#0a0a0a" opacity="0.6"/>
<rect x="329.15" y="556.76" width="11.1" height="1.86" rx="1.8" ry="0.93" fill="#0a0a0a" opacity="0.75"/>
<rect x="342.05" y="556.56" width="11.1" height="1.86" rx="1.8" ry="0.93" fill="#0a0a0a" opacity="0.75"/>
</g>
<rect x="275.5" y="564.88" width="79" height="16.1" fill="#f3f3f5" stroke="#2c2c2c" stroke-width="1.3"/>
<g filter="url(#b1)">
<rect x="277.65" y="570.18" width="11.1" height="2.6" rx="1.8" ry="1.3" fill="#0a0a0a" opacity="1"/>
<rect x="290.85" y="570.18" width="11.1" height="2.6" rx="1.8" ry="1.3" fill="#0a0a0a" opacity="1"/>
<rect x="303.55" y="570.46" width="11.1" height="2.05" rx="1.8" ry="1.02" fill="#0a0a0a" opacity="0.9"/>
<rect x="316.75" y="569.98" width="11.1" height="2.6" rx="1.8" ry="1.3" fill="#0a0a0a" opacity="1"/>
<rect x="329.15" y="570.06" width="11.1" height="2.23" rx="1.8" ry="1.12" fill="#0a0a0a" opacity="0.95"/>
<rect x="342.05" y="570.35" width="11.1" height="1.86" rx="1.8" ry="0.93" fill="#0a0a0a" opacity="0.75"/>
<rect x="277.65" y="574.46" width="11.1" height="2.05" rx="1.8" ry="1.02" fill="#0a0a0a" opacity="1"/>
<rect x="290.85" y="574.56" width="11.1" height="2.23" rx="1.8" ry="1.12" fill="#0a0a0a" opacity="1"/>
<rect x="303.55" y="574.84" width="11.1" height="1.49" rx="1.8" ry="0.74" fill="#0a0a0a" opacity="0.9"/>
<rect x="316.75" y="574.46" width="11.1" height="2.05" rx="1.8" ry="1.02" fill="#0a0a0a" opacity="1"/>
<rect x="329.15" y="574.35" width="11.1" height="1.86" rx="1.8" ry="0.93" fill="#0a0a0a" opacity="0.95"/>
<rect x="342.05" y="574.34" width="11.1" height="1.67" rx="1.8" ry="0.84" fill="#0a0a0a" opacity="0.9"/>
</g>
<rect x="275.5" y="583.97" width="79" height="16.1" fill="#f3f3f5" stroke="#2c2c2c" stroke-width="1.3"/>
<g filter="url(#b1)">
<rect x="277.85" y="591.28" width="10.7" height="2.98" rx="1.8" ry="1.49" fill="#0a0a0a" opacity="1"/>
<rect x="291.05" y="592.05" width="10.7" height="2.23" rx="1.8" ry="1.12" fill="#0a0a0a" opacity="0.95"/>
<rect x="303.75" y="592.43" width="10.7" height="1.67" rx="1.8" ry="0.84" fill="#0a0a0a" opacity="0.9"/>
<rect x="316.95" y="591.58" width="10.7" height="2.98" rx="1.8" ry="1.49" fill="#0a0a0a" opacity="1"/>
<rect x="329.35" y="591.38" width="10.7" height="2.79" rx="1.8" ry="1.4" fill="#0a0a0a" opacity="1"/>
<rect x="342.25" y="591.17" width="10.7" height="2.79" rx="1.8" ry="1.4" fill="#0a0a0a" opacity="1"/>
</g>
<rect x="275.5" y="603.06" width="79" height="16.1" fill="#f3f3f5" stroke="#2c2c2c" stroke-width="1.3"/>
<g filter="url(#b1)">
<rect x="277.65" y="609.47" width="11.1" height="2.98" rx="1.8" ry="1.49" fill="#0a0a0a" opacity="1"/>
<rect x="290.85" y="609.77" width="11.1" height="2.98" rx="1.8" ry="1.49" fill="#0a0a0a" opacity="1"/>
<rect x="303.55" y="610.12" width="11.1" height="1.67" rx="1.8" ry="0.84" fill="#0a0a0a" opacity="0.9"/>
<rect x="316.75" y="609.38" width="11.1" height="3.16" rx="1.8" ry="1.58" fill="#0a0a0a" opacity="1"/>
<rect x="329.15" y="609.26" width="11.1" height="2.6" rx="1.8" ry="1.3" fill="#0a0a0a" opacity="1"/>
<rect x="342.05" y="609.43" width="11.1" height="1.86" rx="1.8" ry="0.93" fill="#0a0a0a" opacity="0.95"/>
</g>
<rect x="275.5" y="622.15" width="79" height="16.1" fill="#f3f3f5" stroke="#2c2c2c" stroke-width="1.3"/>
<g filter="url(#b1)">
<rect x="277.85" y="629.03" width="10.7" height="2.05" rx="1.8" ry="1.02" fill="#0a0a0a" opacity="1"/>
<rect x="291.05" y="628.95" width="10.7" height="2.6" rx="1.8" ry="1.3" fill="#0a0a0a" opacity="1"/>
<rect x="303.75" y="628.95" width="10.7" height="2.6" rx="1.8" ry="1.3" fill="#0a0a0a" opacity="1"/>
<rect x="316.95" y="628.47" width="10.7" height="3.16" rx="1.8" ry="1.58" fill="#0a0a0a" opacity="1"/>
<rect x="329.35" y="628.83" width="10.7" height="2.05" rx="1.8" ry="1.02" fill="#0a0a0a" opacity="1"/>
<rect x="342.25" y="628.81" width="10.7" height="1.49" rx="1.8" ry="0.74" fill="#0a0a0a" opacity="0.9"/>
</g>
<rect x="275.5" y="641.24" width="79" height="16.1" fill="#f3f3f5" stroke="#2c2c2c" stroke-width="1.3"/>
<g filter="url(#b1)">
<rect x="277.55" y="647.83" width="11.3" height="2.42" rx="1.8" ry="1.21" fill="#0a0a0a" opacity="1"/>
<rect x="290.75" y="647.85" width="11.3" height="2.98" rx="1.8" ry="1.49" fill="#0a0a0a" opacity="1"/>
<rect x="303.45" y="647.58" width="11.3" height="3.72" rx="1.8" ry="1.86" fill="#0a0a0a" opacity="1"/>
<rect x="316.65" y="647.94" width="11.3" height="2.79" rx="1.8" ry="1.4" fill="#0a0a0a" opacity="1"/>
<rect x="329.05" y="647.85" width="11.3" height="2.79" rx="1.8" ry="1.4" fill="#0a0a0a" opacity="1"/>
<rect x="341.95" y="647.55" width="11.3" height="2.98" rx="1.8" ry="1.49" fill="#0a0a0a" opacity="1"/>
</g>
<rect x="275.5" y="660.33" width="79" height="16.1" fill="#f3f3f5" stroke="#2c2c2c" stroke-width="1.3"/>
<g filter="url(#b1)">
<rect x="277.55" y="666.26" width="11.3" height="3.35" rx="1.8" ry="1.67" fill="#0a0a0a" opacity="1"/>
<rect x="290.75" y="666.56" width="11.3" height="3.35" rx="1.8" ry="1.67" fill="#0a0a0a" opacity="1"/>
<rect x="303.45" y="666.56" width="11.3" height="3.35" rx="1.8" ry="1.67" fill="#0a0a0a" opacity="1"/>
<rect x="316.65" y="666.46" width="11.3" height="3.35" rx="1.8" ry="1.67" fill="#0a0a0a" opacity="1"/>
<rect x="329.05" y="666.46" width="11.3" height="3.35" rx="1.8" ry="1.67" fill="#0a0a0a" opacity="1"/>
<rect x="341.95" y="666.26" width="11.3" height="3.35" rx="1.8" ry="1.67" fill="#0a0a0a" opacity="1"/>
</g>
<rect x="358.2" y="526.7" width="79" height="16.1" fill="#f3f3f5" stroke="#2c2c2c" stroke-width="1.3"/>
<g filter="url(#b1)">
<rect x="359.05" y="533.31" width="11.5" height="2.98" rx="1.8" ry="1.49" fill="#0a0a0a" opacity="1"/>
<rect x="397.95" y="534.21" width="11.5" height="2.79" rx="1.8" ry="1.4" fill="#0a0a0a" opacity="1"/>
<rect x="410.35" y="534.39" width="11.5" height="2.42" rx="1.8" ry="1.21" fill="#0a0a0a" opacity="1"/>
<rect x="423.55" y="534.39" width="11.5" height="2.42" rx="1.8" ry="1.21" fill="#0a0a0a" opacity="1"/>
</g>
<rect x="358.2" y="545.79" width="79" height="16.1" fill="#f3f3f5" stroke="#2c2c2c" stroke-width="1.3"/>
<g filter="url(#b1)">
<rect x="359.25" y="550.18" width="11.1" height="2.42" rx="1.8" ry="1.21" fill="#0a0a0a" opacity="0.95"/>
<rect x="372.45" y="550.74" width="11.1" height="1.3" rx="1.8" ry="0.65" fill="#0a0a0a" opacity="0.2"/>
<rect x="385.25" y="550.83" width="11.1" height="1.12" rx="1.8" ry="0.56" fill="#0a0a0a" opacity="0.08"/>
<rect x="398.15" y="550.47" width="11.1" height="2.23" rx="1.8" ry="1.12" fill="#0a0a0a" opacity="0.85"/>
<rect x="410.55" y="550.55" width="11.1" height="1.67" rx="1.8" ry="0.84" fill="#0a0a0a" opacity="0.6"/>
<rect x="423.75" y="550.35" width="11.1" height="1.67" rx="1.8" ry="0.84" fill="#0a0a0a" opacity="0.6"/>
<rect x="359.25" y="555.5" width="11.1" height="2.79" rx="1.8" ry="1.4" fill="#0a0a0a" opacity="1"/>
<rect x="372.45" y="556.35" width="11.1" height="1.67" rx="1.8" ry="0.84" fill="#0a0a0a" opacity="0.8"/>
<rect x="385.25" y="556.45" width="11.1" height="1.49" rx="1.8" ry="0.74" fill="#0a0a0a" opacity="0.75"/>
<rect x="398.15" y="555.79" width="11.1" height="2.6" rx="1.8" ry="1.3" fill="#0a0a0a" opacity="1"/>
<rect x="410.55" y="555.68" width="11.1" height="2.42" rx="1.8" ry="1.21" fill="#0a0a0a" opacity="1"/>
<rect x="423.75" y="555.68" width="11.1" height="2.42" rx="1.8" ry="1.21" fill="#0a0a0a" opacity="1"/>
</g>
<rect x="358.2" y="564.88" width="79" height="16.1" fill="#e9e9e9" stroke="#2c2c2c" stroke-width="1.3"/>
<g filter="url(#b1)">
<rect x="359.05" y="571.19" width="11.5" height="2.98" rx="1.8" ry="1.49" fill="#0a0a0a" opacity="1"/>
<rect x="372.25" y="571.77" width="11.5" height="2.42" rx="1.8" ry="1.21" fill="#0a0a0a" opacity="0.95"/>
<rect x="385.05" y="572.04" width="11.5" height="1.67" rx="1.8" ry="0.84" fill="#0a0a0a" opacity="0.6"/>
<rect x="397.95" y="571.6" width="11.5" height="3.16" rx="1.8" ry="1.58" fill="#0a0a0a" opacity="1"/>
<rect x="410.35" y="571.89" width="11.5" height="2.98" rx="1.8" ry="1.49" fill="#0a0a0a" opacity="1"/>
<rect x="423.55" y="571.79" width="11.5" height="2.98" rx="1.8" ry="1.49" fill="#0a0a0a" opacity="1"/>
</g>
<rect x="358.2" y="583.97" width="79" height="16.1" fill="#f3f3f5" stroke="#2c2c2c" stroke-width="1.3"/>
<g filter="url(#b1)">
<rect x="359.45" y="591.28" width="10.7" height="2.98" rx="1.8" ry="1.49" fill="#0a0a0a" opacity="1"/>
<rect x="372.65" y="592.12" width="10.7" height="1.3" rx="1.8" ry="0.65" fill="#0a0a0a" opacity="0.12"/>
<rect x="398.35" y="591.38" width="10.7" height="2.79" rx="1.8" ry="1.4" fill="#0a0a0a" opacity="1"/>
<rect x="410.75" y="592.03" width="10.7" height="1.49" rx="1.8" ry="0.74" fill="#0a0a0a" opacity="0.5"/>
<rect x="423.95" y="591.63" width="10.7" height="1.67" rx="1.8" ry="0.84" fill="#0a0a0a" opacity="0.6"/>
</g>
<rect x="358.2" y="603.06" width="79" height="16.1" fill="#f3f3f5" stroke="#2c2c2c" stroke-width="1.3"/>
<g filter="url(#b1)">
<rect x="359.45" y="610.74" width="10.7" height="2.23" rx="1.8" ry="1.12" fill="#0a0a0a" opacity="1"/>
<rect x="372.65" y="611.13" width="10.7" height="1.86" rx="1.8" ry="0.93" fill="#0a0a0a" opacity="0.95"/>
<rect x="385.45" y="611.6" width="10.7" height="0.93" rx="1.8" ry="0.47" fill="#0a0a0a" opacity="0.2"/>
<rect x="398.35" y="610.94" width="10.7" height="2.23" rx="1.8" ry="1.12" fill="#0a0a0a" opacity="1"/>
<rect x="410.75" y="611.04" width="10.7" height="2.23" rx="1.8" ry="1.12" fill="#0a0a0a" opacity="1"/>
<rect x="423.95" y="610.94" width="10.7" height="2.23" rx="1.8" ry="1.12" fill="#0a0a0a" opacity="1"/>
</g>
<rect x="358.2" y="622.15" width="79" height="16.1" fill="#f3f3f5" stroke="#2c2c2c" stroke-width="1.3"/>
<g filter="url(#b1)">
<rect x="359.65" y="628.16" width="10.3" height="2.79" rx="1.8" ry="1.4" fill="#0a0a0a" opacity="1"/>
<rect x="372.85" y="628.16" width="10.3" height="2.79" rx="1.8" ry="1.4" fill="#0a0a0a" opacity="1"/>
<rect x="385.65" y="628.93" width="10.3" height="2.23" rx="1.8" ry="1.12" fill="#0a0a0a" opacity="0.9"/>
<rect x="398.55" y="628.36" width="10.3" height="2.79" rx="1.8" ry="1.4" fill="#0a0a0a" opacity="1"/>
<rect x="410.95" y="628.75" width="10.3" height="2.6" rx="1.8" ry="1.3" fill="#0a0a0a" opacity="1"/>
<rect x="424.15" y="628.45" width="10.3" height="2.6" rx="1.8" ry="1.3" fill="#0a0a0a" opacity="1"/>
</g>
<rect x="358.2" y="641.24" width="79" height="16.1" fill="#f3f3f5" stroke="#2c2c2c" stroke-width="1.3"/>
<g filter="url(#b1)">
<rect x="359.25" y="646.84" width="11.1" height="2.6" rx="1.8" ry="1.3" fill="#0a0a0a" opacity="1"/>
<rect x="372.45" y="647.25" width="11.1" height="2.98" rx="1.8" ry="1.49" fill="#0a0a0a" opacity="1"/>
<rect x="385.25" y="647.75" width="11.1" height="2.98" rx="1.8" ry="1.49" fill="#0a0a0a" opacity="1"/>
<rect x="398.15" y="647.84" width="11.1" height="2.6" rx="1.8" ry="1.3" fill="#0a0a0a" opacity="1"/>
<rect x="410.55" y="647.93" width="11.1" height="2.42" rx="1.8" ry="1.21" fill="#0a0a0a" opacity="1"/>
<rect x="423.75" y="647.75" width="11.1" height="2.79" rx="1.8" ry="1.4" fill="#0a0a0a" opacity="1"/>
</g>
<rect x="358.2" y="660.33" width="79" height="16.1" fill="#f3f3f5" stroke="#2c2c2c" stroke-width="1.3"/>
<g filter="url(#b1)">
<rect x="359.15" y="666.32" width="11.3" height="2.42" rx="1.8" ry="1.21" fill="#0a0a0a" opacity="1"/>
<rect x="372.35" y="667.12" width="11.3" height="2.42" rx="1.8" ry="1.21" fill="#0a0a0a" opacity="1"/>
<rect x="385.15" y="667.42" width="11.3" height="2.42" rx="1.8" ry="1.21" fill="#0a0a0a" opacity="1"/>
<rect x="398.05" y="667.52" width="11.3" height="2.42" rx="1.8" ry="1.21" fill="#0a0a0a" opacity="1"/>
<rect x="410.45" y="667.62" width="11.3" height="2.42" rx="1.8" ry="1.21" fill="#0a0a0a" opacity="1"/>
<rect x="423.65" y="667.52" width="11.3" height="2.42" rx="1.8" ry="1.21" fill="#0a0a0a" opacity="1"/>
</g>
<rect x="440.4" y="526.7" width="79" height="16.1" fill="#f3f3f5" stroke="#2c2c2c" stroke-width="1.3"/>
<g filter="url(#b1)">
<rect x="443.05" y="532.89" width="11.5" height="2.42" rx="1.8" ry="1.21" fill="#0a0a0a" opacity="1"/>
<rect x="480.85" y="533.68" width="11.5" height="2.23" rx="1.8" ry="1.12" fill="#0a0a0a" opacity="1"/>
<rect x="493.55" y="533.58" width="11.5" height="2.23" rx="1.8" ry="1.12" fill="#0a0a0a" opacity="1"/>
<rect x="506.05" y="533.58" width="11.5" height="2.23" rx="1.8" ry="1.12" fill="#0a0a0a" opacity="1"/>
</g>
<rect x="440.4" y="545.79" width="79" height="16.1" fill="#f3f3f5" stroke="#2c2c2c" stroke-width="1.3"/>
<g filter="url(#b1)">
<rect x="443.05" y="550.77" width="11.5" height="2.23" rx="1.8" ry="1.12" fill="#0a0a0a" opacity="1"/>
<rect x="454.85" y="551.07" width="11.5" height="2.05" rx="1.8" ry="1.02" fill="#0a0a0a" opacity="0.95"/>
<rect x="467.55" y="551.07" width="11.5" height="2.05" rx="1.8" ry="1.02" fill="#0a0a0a" opacity="0.95"/>
<rect x="480.85" y="550.77" width="11.5" height="2.23" rx="1.8" ry="1.12" fill="#0a0a0a" opacity="1"/>
<rect x="493.55" y="550.47" width="11.5" height="2.23" rx="1.8" ry="1.12" fill="#0a0a0a" opacity="1"/>
<rect x="506.05" y="550.18" width="11.5" height="2.42" rx="1.8" ry="1.21" fill="#0a0a0a" opacity="1"/>
<rect x="443.05" y="555.96" width="11.5" height="1.86" rx="1.8" ry="0.93" fill="#0a0a0a" opacity="0.95"/>
<rect x="454.85" y="556.35" width="11.5" height="1.67" rx="1.8" ry="0.84" fill="#0a0a0a" opacity="0.9"/>
<rect x="467.55" y="556.35" width="11.5" height="1.67" rx="1.8" ry="0.84" fill="#0a0a0a" opacity="0.9"/>
<rect x="480.85" y="555.96" width="11.5" height="1.86" rx="1.8" ry="0.93" fill="#0a0a0a" opacity="0.95"/>
<rect x="493.55" y="555.76" width="11.5" height="1.86" rx="1.8" ry="0.93" fill="#0a0a0a" opacity="0.95"/>
<rect x="506.05" y="555.46" width="11.5" height="1.86" rx="1.8" ry="0.93" fill="#0a0a0a" opacity="0.95"/>
</g>
<rect x="440.4" y="564.88" width="79" height="16.1" fill="#f3f3f5" stroke="#2c2c2c" stroke-width="1.3"/>
<g filter="url(#b1)">
<rect x="443.05" y="572.06" width="11.5" height="2.23" rx="1.8" ry="1.12" fill="#0a0a0a" opacity="1"/>
<rect x="454.85" y="572.26" width="11.5" height="2.23" rx="1.8" ry="1.12" fill="#0a0a0a" opacity="1"/>
<rect x="467.55" y="572.06" width="11.5" height="2.23" rx="1.8" ry="1.12" fill="#0a0a0a" opacity="1"/>
<rect x="480.85" y="572.06" width="11.5" height="2.23" rx="1.8" ry="1.12" fill="#0a0a0a" opacity="1"/>
<rect x="493.55" y="572.06" width="11.5" height="2.23" rx="1.8" ry="1.12" fill="#0a0a0a" opacity="1"/>
<rect x="506.05" y="571.18" width="11.5" height="2.6" rx="1.8" ry="1.3" fill="#0a0a0a" opacity="1"/>
<rect x="444.2" y="568.33" width="9.2" height="1.3" rx="1.8" ry="0.65" fill="#0a0a0a" opacity="0.05"/>
<rect x="456" y="568.33" width="9.2" height="1.3" rx="1.8" ry="0.65" fill="#0a0a0a" opacity="0.15"/>
<rect x="468.7" y="568.33" width="9.2" height="1.3" rx="1.8" ry="0.65" fill="#0a0a0a" opacity="0.3"/>
<rect x="482" y="568.33" width="9.2" height="1.3" rx="1.8" ry="0.65" fill="#0a0a0a" opacity="0.1"/>
<rect x="494.7" y="568.33" width="9.2" height="1.3" rx="1.8" ry="0.65" fill="#0a0a0a" opacity="0.2"/>
<rect x="507.2" y="568.33" width="9.2" height="1.3" rx="1.8" ry="0.65" fill="#0a0a0a" opacity="0.35"/>
</g>
<rect x="440.4" y="583.97" width="79" height="16.1" fill="#f3f3f5" stroke="#2c2c2c" stroke-width="1.3"/>
<g filter="url(#b1)">
<rect x="443.05" y="591.45" width="11.5" height="2.23" rx="1.8" ry="1.12" fill="#0a0a0a" opacity="1"/>
<rect x="454.85" y="591.84" width="11.5" height="1.86" rx="1.8" ry="0.93" fill="#0a0a0a" opacity="0.95"/>
<rect x="467.55" y="591.84" width="11.5" height="1.86" rx="1.8" ry="0.93" fill="#0a0a0a" opacity="0.95"/>
<rect x="480.85" y="591.36" width="11.5" height="2.42" rx="1.8" ry="1.21" fill="#0a0a0a" opacity="1"/>
<rect x="493.55" y="591.84" width="11.5" height="1.86" rx="1.8" ry="0.93" fill="#0a0a0a" opacity="0.95"/>
<rect x="506.05" y="591.45" width="11.5" height="2.23" rx="1.8" ry="1.12" fill="#0a0a0a" opacity="1"/>
</g>
<rect x="440.4" y="603.06" width="79" height="16.1" fill="#f3f3f5" stroke="#2c2c2c" stroke-width="1.3"/>
<g filter="url(#b1)">
<rect x="442.75" y="609.71" width="12.1" height="3.91" rx="1.8" ry="1.95" fill="#0a0a0a" opacity="1"/>
<rect x="454.55" y="610.01" width="12.1" height="3.91" rx="1.8" ry="1.95" fill="#0a0a0a" opacity="1"/>
<rect x="467.25" y="609.91" width="12.1" height="3.91" rx="1.8" ry="1.95" fill="#0a0a0a" opacity="1"/>
<rect x="480.55" y="609.8" width="12.1" height="3.72" rx="1.8" ry="1.86" fill="#0a0a0a" opacity="1"/>
<rect x="493.25" y="609.1" width="12.1" height="3.72" rx="1.8" ry="1.86" fill="#0a0a0a" opacity="1"/>
<rect x="505.75" y="608.31" width="12.1" height="3.91" rx="1.8" ry="1.95" fill="#0a0a0a" opacity="1"/>
</g>
<rect x="440.4" y="622.15" width="79" height="16.1" fill="#f3f3f5" stroke="#2c2c2c" stroke-width="1.3"/>
<g filter="url(#b1)">
<rect x="443.45" y="629.21" width="10.7" height="1.67" rx="1.8" ry="0.84" fill="#0a0a0a" opacity="1"/>
<rect x="455.25" y="629.23" width="10.7" height="2.05" rx="1.8" ry="1.02" fill="#0a0a0a" opacity="1"/>
<rect x="467.95" y="629.61" width="10.7" height="1.49" rx="1.8" ry="0.74" fill="#0a0a0a" opacity="0.9"/>
<rect x="481.25" y="629.03" width="10.7" height="2.05" rx="1.8" ry="1.02" fill="#0a0a0a" opacity="1"/>
<rect x="493.95" y="629.69" width="10.7" height="1.12" rx="1.8" ry="0.56" fill="#0a0a0a" opacity="0.8"/>
<rect x="506.45" y="629.49" width="10.7" height="1.12" rx="1.8" ry="0.56" fill="#0a0a0a" opacity="0.75"/>
</g>
<rect x="440.4" y="641.24" width="79" height="16.1" fill="#f3f3f5" stroke="#2c2c2c" stroke-width="1.3"/>
<g filter="url(#b1)">
<rect x="443.25" y="648.02" width="11.1" height="2.05" rx="1.8" ry="1.02" fill="#0a0a0a" opacity="1"/>
<rect x="455.05" y="648.12" width="11.1" height="2.23" rx="1.8" ry="1.12" fill="#0a0a0a" opacity="1"/>
<rect x="467.75" y="648.04" width="11.1" height="2.6" rx="1.8" ry="1.3" fill="#0a0a0a" opacity="1"/>
<rect x="481.05" y="648.03" width="11.1" height="2.42" rx="1.8" ry="1.21" fill="#0a0a0a" opacity="1"/>
<rect x="493.75" y="647.74" width="11.1" height="2.6" rx="1.8" ry="1.3" fill="#0a0a0a" opacity="1"/>
<rect x="506.25" y="647.43" width="11.1" height="2.42" rx="1.8" ry="1.21" fill="#0a0a0a" opacity="1"/>
</g>
<rect x="440.4" y="660.33" width="79" height="16.1" fill="#f3f3f5" stroke="#2c2c2c" stroke-width="1.3"/>
<g filter="url(#b1)">
<rect x="442.75" y="666.54" width="12.1" height="2.79" rx="1.8" ry="1.4" fill="#0a0a0a" opacity="1"/>
<rect x="454.55" y="666.65" width="12.1" height="3.16" rx="1.8" ry="1.58" fill="#0a0a0a" opacity="1"/>
<rect x="467.25" y="666.84" width="12.1" height="2.98" rx="1.8" ry="1.49" fill="#0a0a0a" opacity="1"/>
<rect x="480.55" y="666.84" width="12.1" height="2.79" rx="1.8" ry="1.4" fill="#0a0a0a" opacity="1"/>
<rect x="493.25" y="666.35" width="12.1" height="3.16" rx="1.8" ry="1.58" fill="#0a0a0a" opacity="1"/>
<rect x="505.75" y="665.96" width="12.1" height="3.35" rx="1.8" ry="1.67" fill="#0a0a0a" opacity="1"/>
</g>
</svg></body></html>
